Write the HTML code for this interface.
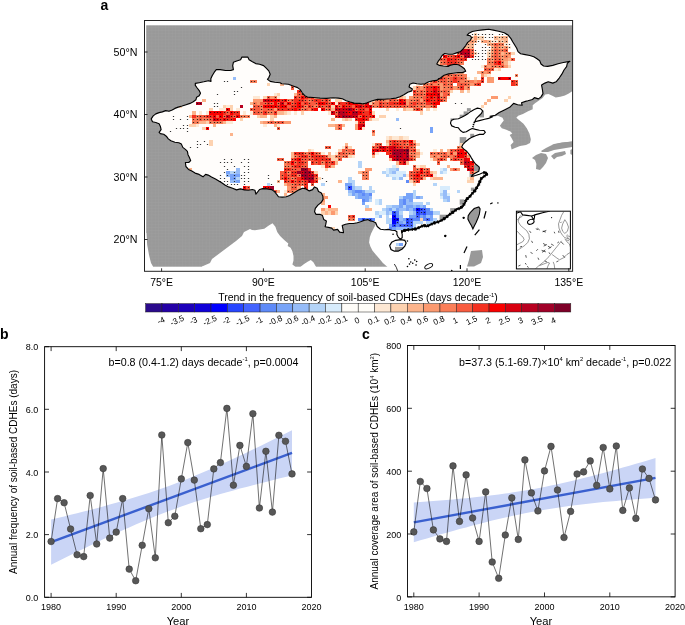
<!DOCTYPE html><html><head><meta charset="utf-8"><title>Figure</title><style>html,body{margin:0;padding:0;background:#fff}svg{display:block}text{font-family:"Liberation Sans",Arial,Helvetica,sans-serif;fill:#000}</style></head><body>
<svg width="685" height="625" viewBox="0 0 685 625">
<rect width="685" height="625" fill="#fff"/>
<defs><pattern id="gp" x="148.03" y="27.0" width="3.3935" height="3.125" patternUnits="userSpaceOnUse"><rect width="3.3935" height="3.125" fill="#999"/><path d="M0 0H3.4M0 0V3.2" stroke="#a4a4a4" stroke-width="0.5" fill="none"/></pattern></defs>
<g id="map">
<rect x="146.2" y="25.3" width="426.0" height="241.4" fill="url(#gp)"/>
<polygon points="145.6,232.6 146.4,233.0 147.2,245.0 149.0,255.0 151.0,263.0 153.0,266.6 153.0,267.4 145.6,267.4" fill="#fff"/>
<polygon points="202.0,267.4 202.0,266.6 210.0,263.0 212.0,259.0 220.0,253.0 228.0,247.0 236.0,241.0 242.0,236.0 244.0,232.0 250.0,229.0 252.0,230.0 255.0,230.2 259.7,229.6 264.3,228.8 268.4,225.7 272.5,223.2 275.4,226.7 277.2,231.9 280.1,236.0 284.2,240.1 288.3,243.6 287.7,245.9 290.6,247.7 292.4,251.2 293.5,255.9 293.5,260.6 292.4,264.6 295.3,266.7 295.3,267.6" fill="#fff"/>
<polygon points="300.6,267.6 300.6,266.7 304.1,264.1 307.6,261.7 310.8,260.0 313.4,262.3 315.1,265.2 316.0,266.7 316.0,267.6" fill="#fff"/>
<polygon points="380.0,215.0 430.0,180.0 445.0,130.0 455.0,105.0 480.0,100.0 487.0,118.0 497.9,115.8 502.5,117.8 503.8,120.5 501.8,123.1 499.9,125.7 501.8,128.3 506.4,129.7 510.4,131.6 512.3,133.6 509.7,134.9 511.7,138.2 513.6,142.0 510.6,145.0 511.6,149.4 515.0,148.0 520.0,146.0 526.0,145.0 530.0,143.0 531.0,139.0 531.0,142.0 530.7,138.8 529.4,133.6 526.8,128.3 523.5,123.7 519.6,120.5 516.3,117.8 518.2,115.8 522.9,113.9 528.1,111.2 532.7,109.3 532.7,105.3 534.7,103.4 538.6,100.7 542.6,98.1 545.2,94.4 548.5,93.9 551.8,95.5 555.7,97.5 560.3,96.8 564.9,95.5 568.8,93.5 572.5,90.9 572.8,91.0 572.8,267.3 387.5,267.3 387.5,266.9 382.9,262.9 379.0,258.3 375.7,254.4 372.4,250.4 370.4,246.5 369.1,242.6 369.8,237.3 371.1,233.4 373.1,229.4 375.7,224.4" fill="#fff"/>
<polygon points="532.0,158.0 536.0,155.0 541.0,153.0 546.0,154.0 548.0,158.0 546.0,163.0 543.0,167.0 540.0,170.0 536.0,169.0 536.4,164.0 535.0,160.0" fill="#999"/>
<polygon points="541.0,151.0 546.0,148.0 554.0,144.0 562.0,142.6 572.2,141.6 572.2,147.0 566.0,148.0 560.0,149.0 554.0,150.0 548.0,152.0 542.0,152.0" fill="#999"/>
<polygon points="551.0,156.0 555.0,153.0 560.0,152.0 565.0,151.0 566.0,154.0 562.0,156.0 557.0,157.0 554.0,159.4" fill="#999"/>
<polygon points="570.4,150.0 572.2,149.0 572.2,155.0 570.4,154.0" fill="#999"/>
<polygon points="471.0,251.0 482.0,250.0 483.0,257.0 481.0,263.0 474.0,266.6 467.0,266.6 469.0,260.0" fill="#999"/>
<polygon points="552.0,145.0 560.0,143.0 572.2,141.6 572.2,145.0" fill="#999"/>
<polygon points="151.2,118.9 153.2,115.9 155.8,113.9 159.1,112.6 162.4,111.9 165.7,110.6 169.0,111.3 172.2,110.0 174.9,108.4 178.2,107.1 182.1,106.0 186.1,104.7 190.0,103.4 193.3,101.8 195.9,99.8 196.6,97.2 199.2,95.8 200.5,93.2 199.2,90.6 197.2,88.0 195.3,85.3 195.3,83.4 199.2,82.7 203.8,81.8 208.4,80.7 211.0,81.4 210.8,78.8 212.3,75.5 214.3,72.2 216.3,69.6 220.2,69.6 225.5,70.5 230.7,70.5 233.4,69.6 232.7,65.6 233.4,62.3 236.7,61.0 240.6,59.7 241.9,57.1 247.8,57.1 249.1,59.7 252.4,61.7 255.7,63.6 259.6,64.3 263.6,65.6 266.2,68.2 268.8,70.9 270.2,74.2 268.8,77.5 267.5,79.4 270.2,81.4 274.8,82.3 280.0,82.7 281.8,83.7 288.4,84.3 293.0,86.0 297.6,87.6 300.2,89.6 302.2,92.8 304.8,95.7 307.4,97.1 313.4,97.5 319.9,98.1 326.5,98.4 333.1,97.8 338.3,98.1 342.3,98.8 346.2,100.7 350.2,102.0 354.1,103.1 360.0,103.4 363.1,104.0 367.1,102.7 372.3,100.7 377.6,99.4 384.2,99.2 390.7,98.8 396.0,98.1 399.9,96.8 403.9,94.8 407.8,92.2 411.8,90.9 412.4,88.9 409.1,86.9 409.8,84.3 413.1,83.0 417.0,83.7 421.0,84.3 424.9,83.7 428.8,81.7 432.8,80.8 436.7,80.4 440.8,77.8 444.1,75.2 448.6,73.9 453.2,73.2 457.9,72.6 462.4,72.6 465.7,71.3 464.4,68.7 461.8,66.7 458.5,64.7 454.6,64.3 450.6,65.1 447.3,66.4 443.4,66.0 439.4,65.4 436.8,64.0 438.1,61.4 440.1,58.8 442.1,55.5 444.7,53.5 448.6,54.2 452.6,54.2 456.5,52.9 460.5,51.6 463.1,48.9 465.7,45.6 467.7,42.4 470.3,40.4 471.6,37.8 470.3,35.8 467.1,35.1 469.0,33.2 472.3,31.5 477.6,30.5 482.8,29.9 488.7,29.2 493.3,30.1 498.6,31.2 499.6,31.5 504.2,32.8 508.1,35.1 510.8,38.4 512.7,41.7 514.7,45.0 516.7,48.3 518.0,51.6 520.6,53.8 525.2,54.6 529.8,55.5 533.8,56.8 537.0,58.8 539.7,60.8 541.0,64.0 543.6,66.0 547.6,66.4 552.8,65.4 558.1,63.8 563.3,62.5 569.9,61.4 567.3,63.4 566.6,66.7 564.0,70.0 562.0,73.9 559.4,77.8 556.1,81.8 552.8,83.1 548.2,81.8 544.9,83.1 541.6,85.1 542.3,89.0 543.0,93.6 541.0,96.9 538.4,98.9 534.4,97.6 532.5,99.5 527.9,100.8 525.5,101.4 521.5,102.7 522.2,105.3 517.6,104.7 513.6,103.4 509.7,107.3 504.4,109.9 499.2,112.6 495.3,115.2 490.0,116.2 492.6,116.7 488.6,118.4 484.7,119.3 479.4,120.6 474.8,121.7 476.1,118.7 478.8,116.0 481.4,113.4 482.7,110.8 480.7,108.8 477.4,108.1 474.2,109.5 470.9,111.4 468.2,113.4 465.0,115.4 461.7,117.3 458.4,118.7 453.8,119.3 451.2,120.6 450.5,123.2 451.8,125.9 455.1,127.2 458.4,127.8 460.4,130.5 463.0,132.4 466.3,131.8 469.6,129.8 472.2,128.5 475.5,129.4 479.4,130.2 484.0,130.5 485.3,132.4 483.4,134.4 479.4,134.4 475.5,135.7 472.2,137.1 468.9,139.0 465.6,141.7 463.0,144.3 461.7,146.9 463.6,148.9 466.9,151.5 469.6,154.8 471.5,158.1 473.5,161.4 475.5,164.0 478.8,166.6 479.4,167.9 478.8,171.2 475.5,173.1 472.2,175.1 471.5,176.4 475.5,175.5 479.4,174.2 483.4,172.5 486.0,172.5 486.6,174.4 484.0,176.4 481.4,178.4 480.1,181.0 478.8,184.3 476.8,187.6 474.8,190.9 472.2,193.5 469.6,196.8 466.3,199.4 465.0,202.7 463.0,206.0 459.7,208.6 457.4,208.8 454.1,211.4 450.2,214.1 446.2,217.3 442.3,220.0 438.3,221.9 434.4,222.9 430.4,224.6 426.5,226.5 423.9,225.2 419.9,227.2 416.0,228.9 412.1,229.4 408.1,229.8 404.2,230.5 401.5,231.8 402.2,234.4 402.2,237.7 400.2,239.0 398.2,237.1 396.9,234.4 396.9,231.8 395.0,230.5 391.7,230.2 388.4,229.4 384.4,229.8 380.5,229.2 377.2,226.5 375.7,222.8 373.1,221.5 370.4,220.9 367.8,219.6 364.5,220.2 361.2,221.5 357.3,222.8 353.4,223.5 349.4,223.5 345.5,224.2 342.2,225.5 342.9,228.8 343.5,232.7 339.6,232.1 337.6,229.4 333.6,230.1 331.7,228.1 328.4,227.4 325.1,226.8 325.8,224.2 326.4,220.9 323.8,219.6 322.5,215.6 319.9,214.3 315.9,214.3 314.6,211.7 315.3,208.4 317.9,205.1 321.2,202.5 323.1,199.4 322.8,196.1 321.1,192.8 318.5,191.5 317.2,188.2 314.5,186.9 312.6,189.6 309.3,190.9 306.0,188.9 302.7,188.2 299.4,189.6 296.1,191.5 292.9,193.5 289.6,195.5 286.3,196.8 282.3,197.1 278.4,196.8 277.1,194.8 274.4,191.5 271.8,189.6 266.7,188.9 262.8,188.6 259.5,189.5 257.5,192.2 255.9,194.1 254.9,190.2 252.3,189.5 248.3,190.2 244.4,189.9 240.4,188.9 236.5,189.9 232.6,188.2 228.6,186.9 225.3,185.2 222.1,183.0 218.8,181.0 215.5,179.0 211.5,177.1 208.2,175.1 205.6,174.4 203.0,176.8 199.1,174.4 195.1,173.1 191.8,171.1 188.5,169.4 185.9,166.5 185.4,162.5 188.7,162.5 190.7,160.6 189.3,157.3 188.0,154.7 187.4,151.4 185.4,149.4 182.8,147.4 181.4,144.1 178.8,142.8 174.9,142.2 170.9,140.8 168.3,138.9 166.3,136.2 163.7,134.3 160.4,133.6 159.1,132.3 161.1,129.7 160.4,126.4 159.1,123.8 155.8,122.5 152.5,121.8" fill="#fffdfb"/>
<polygon points="389.7,245.6 391.7,242.3 395.6,240.3 400.9,239.7 404.8,240.3 406.1,243.0 404.8,246.2 402.2,248.9 398.2,251.2 394.3,251.2 391.0,249.5" fill="#fffdfb"/>
<defs><clipPath id="cclip"><polygon points="151.2,118.9 153.2,115.9 155.8,113.9 159.1,112.6 162.4,111.9 165.7,110.6 169.0,111.3 172.2,110.0 174.9,108.4 178.2,107.1 182.1,106.0 186.1,104.7 190.0,103.4 193.3,101.8 195.9,99.8 196.6,97.2 199.2,95.8 200.5,93.2 199.2,90.6 197.2,88.0 195.3,85.3 195.3,83.4 199.2,82.7 203.8,81.8 208.4,80.7 211.0,81.4 210.8,78.8 212.3,75.5 214.3,72.2 216.3,69.6 220.2,69.6 225.5,70.5 230.7,70.5 233.4,69.6 232.7,65.6 233.4,62.3 236.7,61.0 240.6,59.7 241.9,57.1 247.8,57.1 249.1,59.7 252.4,61.7 255.7,63.6 259.6,64.3 263.6,65.6 266.2,68.2 268.8,70.9 270.2,74.2 268.8,77.5 267.5,79.4 270.2,81.4 274.8,82.3 280.0,82.7 281.8,83.7 288.4,84.3 293.0,86.0 297.6,87.6 300.2,89.6 302.2,92.8 304.8,95.7 307.4,97.1 313.4,97.5 319.9,98.1 326.5,98.4 333.1,97.8 338.3,98.1 342.3,98.8 346.2,100.7 350.2,102.0 354.1,103.1 360.0,103.4 363.1,104.0 367.1,102.7 372.3,100.7 377.6,99.4 384.2,99.2 390.7,98.8 396.0,98.1 399.9,96.8 403.9,94.8 407.8,92.2 411.8,90.9 412.4,88.9 409.1,86.9 409.8,84.3 413.1,83.0 417.0,83.7 421.0,84.3 424.9,83.7 428.8,81.7 432.8,80.8 436.7,80.4 440.8,77.8 444.1,75.2 448.6,73.9 453.2,73.2 457.9,72.6 462.4,72.6 465.7,71.3 464.4,68.7 461.8,66.7 458.5,64.7 454.6,64.3 450.6,65.1 447.3,66.4 443.4,66.0 439.4,65.4 436.8,64.0 438.1,61.4 440.1,58.8 442.1,55.5 444.7,53.5 448.6,54.2 452.6,54.2 456.5,52.9 460.5,51.6 463.1,48.9 465.7,45.6 467.7,42.4 470.3,40.4 471.6,37.8 470.3,35.8 467.1,35.1 469.0,33.2 472.3,31.5 477.6,30.5 482.8,29.9 488.7,29.2 493.3,30.1 498.6,31.2 499.6,31.5 504.2,32.8 508.1,35.1 510.8,38.4 512.7,41.7 514.7,45.0 516.7,48.3 518.0,51.6 520.6,53.8 525.2,54.6 529.8,55.5 533.8,56.8 537.0,58.8 539.7,60.8 541.0,64.0 543.6,66.0 547.6,66.4 552.8,65.4 558.1,63.8 563.3,62.5 569.9,61.4 567.3,63.4 566.6,66.7 564.0,70.0 562.0,73.9 559.4,77.8 556.1,81.8 552.8,83.1 548.2,81.8 544.9,83.1 541.6,85.1 542.3,89.0 543.0,93.6 541.0,96.9 538.4,98.9 534.4,97.6 532.5,99.5 527.9,100.8 525.5,101.4 521.5,102.7 522.2,105.3 517.6,104.7 513.6,103.4 509.7,107.3 504.4,109.9 499.2,112.6 495.3,115.2 490.0,116.2 492.6,116.7 488.6,118.4 484.7,119.3 479.4,120.6 474.8,121.7 476.1,118.7 478.8,116.0 481.4,113.4 482.7,110.8 480.7,108.8 477.4,108.1 474.2,109.5 470.9,111.4 468.2,113.4 465.0,115.4 461.7,117.3 458.4,118.7 453.8,119.3 451.2,120.6 450.5,123.2 451.8,125.9 455.1,127.2 458.4,127.8 460.4,130.5 463.0,132.4 466.3,131.8 469.6,129.8 472.2,128.5 475.5,129.4 479.4,130.2 484.0,130.5 485.3,132.4 483.4,134.4 479.4,134.4 475.5,135.7 472.2,137.1 468.9,139.0 465.6,141.7 463.0,144.3 461.7,146.9 463.6,148.9 466.9,151.5 469.6,154.8 471.5,158.1 473.5,161.4 475.5,164.0 478.8,166.6 479.4,167.9 478.8,171.2 475.5,173.1 472.2,175.1 471.5,176.4 475.5,175.5 479.4,174.2 483.4,172.5 486.0,172.5 486.6,174.4 484.0,176.4 481.4,178.4 480.1,181.0 478.8,184.3 476.8,187.6 474.8,190.9 472.2,193.5 469.6,196.8 466.3,199.4 465.0,202.7 463.0,206.0 459.7,208.6 457.4,208.8 454.1,211.4 450.2,214.1 446.2,217.3 442.3,220.0 438.3,221.9 434.4,222.9 430.4,224.6 426.5,226.5 423.9,225.2 419.9,227.2 416.0,228.9 412.1,229.4 408.1,229.8 404.2,230.5 401.5,231.8 402.2,234.4 402.2,237.7 400.2,239.0 398.2,237.1 396.9,234.4 396.9,231.8 395.0,230.5 391.7,230.2 388.4,229.4 384.4,229.8 380.5,229.2 377.2,226.5 375.7,222.8 373.1,221.5 370.4,220.9 367.8,219.6 364.5,220.2 361.2,221.5 357.3,222.8 353.4,223.5 349.4,223.5 345.5,224.2 342.2,225.5 342.9,228.8 343.5,232.7 339.6,232.1 337.6,229.4 333.6,230.1 331.7,228.1 328.4,227.4 325.1,226.8 325.8,224.2 326.4,220.9 323.8,219.6 322.5,215.6 319.9,214.3 315.9,214.3 314.6,211.7 315.3,208.4 317.9,205.1 321.2,202.5 323.1,199.4 322.8,196.1 321.1,192.8 318.5,191.5 317.2,188.2 314.5,186.9 312.6,189.6 309.3,190.9 306.0,188.9 302.7,188.2 299.4,189.6 296.1,191.5 292.9,193.5 289.6,195.5 286.3,196.8 282.3,197.1 278.4,196.8 277.1,194.8 274.4,191.5 271.8,189.6 266.7,188.9 262.8,188.6 259.5,189.5 257.5,192.2 255.9,194.1 254.9,190.2 252.3,189.5 248.3,190.2 244.4,189.9 240.4,188.9 236.5,189.9 232.6,188.2 228.6,186.9 225.3,185.2 222.1,183.0 218.8,181.0 215.5,179.0 211.5,177.1 208.2,175.1 205.6,174.4 203.0,176.8 199.1,174.4 195.1,173.1 191.8,171.1 188.5,169.4 185.9,166.5 185.4,162.5 188.7,162.5 190.7,160.6 189.3,157.3 188.0,154.7 187.4,151.4 185.4,149.4 182.8,147.4 181.4,144.1 178.8,142.8 174.9,142.2 170.9,140.8 168.3,138.9 166.3,136.2 163.7,134.3 160.4,133.6 159.1,132.3 161.1,129.7 160.4,126.4 159.1,123.8 155.8,122.5 152.5,121.8"/><polygon points="389.7,245.6 391.7,242.3 395.6,240.3 400.9,239.7 404.8,240.3 406.1,243.0 404.8,246.2 402.2,248.9 398.2,251.2 394.3,251.2 391.0,249.5"/></clipPath></defs>
<g clip-path="url(#cclip)">
<rect x="466.9" y="108.1" width="3.9" height="3.3" fill="#999"/>
<rect x="463.6" y="111.4" width="4.6" height="3.9" fill="#999"/>
<rect x="459.7" y="114.7" width="5.3" height="3.9" fill="#999"/>
<rect x="450.5" y="118.4" width="3.9" height="1.8" fill="#999"/>
<rect x="479.4" y="110.8" width="4.6" height="6.6" fill="#999"/>
<rect x="459.7" y="137.1" width="6.6" height="10.5" fill="#999"/>
<rect x="470.2" y="133.8" width="3.9" height="3.3" fill="#999"/>
<rect x="469.6" y="169.9" width="4.6" height="7.1" fill="#999"/>
<rect x="472.9" y="165.3" width="6.6" height="9.2" fill="#999"/>
<rect x="470.9" y="187.6" width="3.9" height="3.3" fill="#999"/>
<rect x="459.7" y="199.4" width="4.6" height="5.3" fill="#999"/>
<rect x="450.5" y="209.3" width="6.6" height="3.3" fill="#999"/>
<rect x="440.0" y="216.5" width="5.3" height="3.9" fill="#999"/>
<rect x="400.9" y="228.5" width="12.5" height="2.6" fill="#999"/>
<rect x="439.6" y="214.7" width="9.2" height="6.6" fill="#999"/>
<rect x="450.2" y="208.1" width="9.8" height="3.9" fill="#999"/>
<rect x="395.0" y="246.9" width="7.9" height="4.3" fill="#999"/>
<rect x="473.2" y="164.0" width="6.0" height="11.0" fill="#999"/>
<rect x="460.0" y="138.0" width="5.6" height="9.4" fill="#999"/>
</g>
<g clip-path="url(#cclip)" shape-rendering="crispEdges">
<rect x="473.8" y="33.2" width="3.4" height="3.12" fill="#fdd2b0"/>
<rect x="470.4" y="36.4" width="3.4" height="3.12" fill="#fdd2b0"/>
<rect x="473.8" y="36.4" width="3.4" height="3.12" fill="#fc9a70"/>
<rect x="477.2" y="36.4" width="6.8" height="3.12" fill="#fdd2b0"/>
<rect x="494.2" y="36.4" width="3.4" height="3.12" fill="#fcb48c"/>
<rect x="497.6" y="36.4" width="3.4" height="3.12" fill="#fdd2b0"/>
<rect x="500.9" y="36.4" width="6.8" height="3.12" fill="#fcb48c"/>
<rect x="467.0" y="39.5" width="3.4" height="3.12" fill="#fcb48c"/>
<rect x="470.4" y="39.5" width="3.4" height="3.12" fill="#fc9a70"/>
<rect x="473.8" y="39.5" width="3.4" height="3.12" fill="#fcb48c"/>
<rect x="480.6" y="39.5" width="3.4" height="3.12" fill="#fcb48c"/>
<rect x="484.0" y="39.5" width="3.4" height="3.12" fill="#fc9a70"/>
<rect x="487.4" y="39.5" width="3.4" height="3.12" fill="#fcb48c"/>
<rect x="490.8" y="39.5" width="6.8" height="3.12" fill="#fde8d4"/>
<rect x="497.6" y="39.5" width="3.4" height="3.12" fill="#fcb48c"/>
<rect x="500.9" y="39.5" width="3.4" height="3.12" fill="#fdd2b0"/>
<rect x="504.3" y="39.5" width="3.4" height="3.12" fill="#fcb48c"/>
<rect x="467.0" y="42.6" width="6.8" height="3.12" fill="#fcb48c"/>
<rect x="487.4" y="42.6" width="3.4" height="3.12" fill="#fcb48c"/>
<rect x="490.8" y="42.6" width="3.4" height="3.12" fill="#fc9a70"/>
<rect x="494.2" y="42.6" width="3.4" height="3.12" fill="#f85c40"/>
<rect x="497.6" y="42.6" width="6.8" height="3.12" fill="#fa7e58"/>
<rect x="504.3" y="42.6" width="3.4" height="3.12" fill="#fde8d4"/>
<rect x="463.6" y="45.8" width="10.2" height="3.12" fill="#fcb48c"/>
<rect x="490.8" y="45.8" width="3.4" height="3.12" fill="#fcb48c"/>
<rect x="494.2" y="45.8" width="3.4" height="3.12" fill="#fa7e58"/>
<rect x="497.6" y="45.8" width="3.4" height="3.12" fill="#fc9a70"/>
<rect x="500.9" y="45.8" width="3.4" height="3.12" fill="#fcb48c"/>
<rect x="504.3" y="45.8" width="3.4" height="3.12" fill="#fc9a70"/>
<rect x="507.7" y="45.8" width="3.4" height="3.12" fill="#fde8d4"/>
<rect x="460.2" y="48.9" width="3.4" height="3.12" fill="#b80020"/>
<rect x="463.6" y="48.9" width="3.4" height="3.12" fill="#d80010"/>
<rect x="467.0" y="48.9" width="3.4" height="3.12" fill="#b80020"/>
<rect x="470.4" y="48.9" width="3.4" height="3.12" fill="#f85c40"/>
<rect x="487.4" y="48.9" width="3.4" height="3.12" fill="#fde8d4"/>
<rect x="490.8" y="48.9" width="3.4" height="3.12" fill="#fc9a70"/>
<rect x="494.2" y="48.9" width="3.4" height="3.12" fill="#f85c40"/>
<rect x="497.6" y="48.9" width="6.8" height="3.12" fill="#fa7e58"/>
<rect x="504.3" y="48.9" width="3.4" height="3.12" fill="#f85c40"/>
<rect x="450.0" y="52.0" width="3.4" height="3.12" fill="#fde8d4"/>
<rect x="456.8" y="52.0" width="3.4" height="3.12" fill="#f85c40"/>
<rect x="460.2" y="52.0" width="10.2" height="3.12" fill="#b80020"/>
<rect x="470.4" y="52.0" width="3.4" height="3.12" fill="#f85c40"/>
<rect x="473.8" y="52.0" width="3.4" height="3.12" fill="#fdd2b0"/>
<rect x="487.4" y="52.0" width="3.4" height="3.12" fill="#fdd2b0"/>
<rect x="490.8" y="52.0" width="3.4" height="3.12" fill="#fc9a70"/>
<rect x="494.2" y="52.0" width="3.4" height="3.12" fill="#f85c40"/>
<rect x="497.6" y="52.0" width="3.4" height="3.12" fill="#fa7e58"/>
<rect x="500.9" y="52.0" width="3.4" height="3.12" fill="#fcb48c"/>
<rect x="504.3" y="52.0" width="3.4" height="3.12" fill="#fc9a70"/>
<rect x="507.7" y="52.0" width="3.4" height="3.12" fill="#fa7e58"/>
<rect x="511.1" y="52.0" width="3.4" height="3.12" fill="#fdd2b0"/>
<rect x="443.3" y="55.1" width="3.4" height="3.12" fill="#fa0000"/>
<rect x="446.7" y="55.1" width="6.8" height="3.12" fill="#f85c40"/>
<rect x="453.4" y="55.1" width="3.4" height="3.12" fill="#f43020"/>
<rect x="456.8" y="55.1" width="3.4" height="3.12" fill="#fa0000"/>
<rect x="460.2" y="55.1" width="3.4" height="3.12" fill="#f85c40"/>
<rect x="463.6" y="55.1" width="6.8" height="3.12" fill="#b80020"/>
<rect x="470.4" y="55.1" width="3.4" height="3.12" fill="#f43020"/>
<rect x="487.4" y="55.1" width="3.4" height="3.12" fill="#fdd2b0"/>
<rect x="490.8" y="55.1" width="3.4" height="3.12" fill="#fa7e58"/>
<rect x="494.2" y="55.1" width="3.4" height="3.12" fill="#f85c40"/>
<rect x="497.6" y="55.1" width="3.4" height="3.12" fill="#fa7e58"/>
<rect x="500.9" y="55.1" width="3.4" height="3.12" fill="#fc9a70"/>
<rect x="504.3" y="55.1" width="3.4" height="3.12" fill="#fa7e58"/>
<rect x="507.7" y="55.1" width="3.4" height="3.12" fill="#fc9a70"/>
<rect x="436.5" y="58.2" width="3.4" height="3.12" fill="#fdd2b0"/>
<rect x="439.9" y="58.2" width="6.8" height="3.12" fill="#f85c40"/>
<rect x="446.7" y="58.2" width="3.4" height="3.12" fill="#fa0000"/>
<rect x="450.0" y="58.2" width="6.8" height="3.12" fill="#f43020"/>
<rect x="456.8" y="58.2" width="3.4" height="3.12" fill="#f85c40"/>
<rect x="460.2" y="58.2" width="6.8" height="3.12" fill="#f43020"/>
<rect x="487.4" y="58.2" width="3.4" height="3.12" fill="#fa7e58"/>
<rect x="490.8" y="58.2" width="3.4" height="3.12" fill="#fc9a70"/>
<rect x="494.2" y="58.2" width="6.8" height="3.12" fill="#f85c40"/>
<rect x="500.9" y="58.2" width="6.8" height="3.12" fill="#fc9a70"/>
<rect x="507.7" y="58.2" width="3.4" height="3.12" fill="#fcb48c"/>
<rect x="511.1" y="58.2" width="3.4" height="3.12" fill="#f85c40"/>
<rect x="436.5" y="61.4" width="3.4" height="3.12" fill="#fdd2b0"/>
<rect x="439.9" y="61.4" width="3.4" height="3.12" fill="#fa7e58"/>
<rect x="443.3" y="61.4" width="3.4" height="3.12" fill="#f85c40"/>
<rect x="446.7" y="61.4" width="10.2" height="3.12" fill="#f43020"/>
<rect x="456.8" y="61.4" width="3.4" height="3.12" fill="#f85c40"/>
<rect x="460.2" y="61.4" width="3.4" height="3.12" fill="#fa7e58"/>
<rect x="487.4" y="61.4" width="6.8" height="3.12" fill="#fa7e58"/>
<rect x="494.2" y="61.4" width="3.4" height="3.12" fill="#f43020"/>
<rect x="497.6" y="61.4" width="3.4" height="3.12" fill="#fa0000"/>
<rect x="500.9" y="61.4" width="3.4" height="3.12" fill="#fa7e58"/>
<rect x="504.3" y="61.4" width="3.4" height="3.12" fill="#fcb48c"/>
<rect x="507.7" y="61.4" width="3.4" height="3.12" fill="#fde8d4"/>
<rect x="439.9" y="64.5" width="3.4" height="3.12" fill="#fcb48c"/>
<rect x="443.3" y="64.5" width="3.4" height="3.12" fill="#fde8d4"/>
<rect x="446.7" y="64.5" width="3.4" height="3.12" fill="#f85c40"/>
<rect x="480.6" y="64.5" width="3.4" height="3.12" fill="#fde8d4"/>
<rect x="484.0" y="64.5" width="3.4" height="3.12" fill="#fa7e58"/>
<rect x="487.4" y="64.5" width="3.4" height="3.12" fill="#fc9a70"/>
<rect x="490.8" y="64.5" width="10.2" height="3.12" fill="#fa7e58"/>
<rect x="500.9" y="64.5" width="3.4" height="3.12" fill="#f85c40"/>
<rect x="504.3" y="64.5" width="3.4" height="3.12" fill="#fc9a70"/>
<rect x="507.7" y="64.5" width="3.4" height="3.12" fill="#fdd2b0"/>
<rect x="484.0" y="67.6" width="10.2" height="3.12" fill="#f85c40"/>
<rect x="494.2" y="67.6" width="3.4" height="3.12" fill="#fde8d4"/>
<rect x="497.6" y="67.6" width="3.4" height="3.12" fill="#fdd2b0"/>
<rect x="456.8" y="70.8" width="6.8" height="3.12" fill="#fcb48c"/>
<rect x="477.2" y="70.8" width="3.4" height="3.12" fill="#fcb48c"/>
<rect x="480.6" y="70.8" width="3.4" height="3.12" fill="#fa7e58"/>
<rect x="484.0" y="70.8" width="3.4" height="3.12" fill="#fc9a70"/>
<rect x="487.4" y="70.8" width="3.4" height="3.12" fill="#fa7e58"/>
<rect x="443.3" y="73.9" width="3.4" height="3.12" fill="#fa7e58"/>
<rect x="446.7" y="73.9" width="3.4" height="3.12" fill="#f85c40"/>
<rect x="450.0" y="73.9" width="3.4" height="3.12" fill="#fa7e58"/>
<rect x="453.4" y="73.9" width="3.4" height="3.12" fill="#f85c40"/>
<rect x="456.8" y="73.9" width="10.2" height="3.12" fill="#fa7e58"/>
<rect x="480.6" y="73.9" width="3.4" height="3.12" fill="#fc9a70"/>
<rect x="484.0" y="73.9" width="3.4" height="3.12" fill="#fdd2b0"/>
<rect x="487.4" y="73.9" width="3.4" height="3.12" fill="#fde8d4"/>
<rect x="514.5" y="73.9" width="3.4" height="3.12" fill="#fa7e58"/>
<rect x="232.9" y="77.0" width="3.4" height="3.12" fill="#96bcf8"/>
<rect x="436.5" y="77.0" width="3.4" height="3.12" fill="#f85c40"/>
<rect x="439.9" y="77.0" width="3.4" height="3.12" fill="#f43020"/>
<rect x="443.3" y="77.0" width="3.4" height="3.12" fill="#f85c40"/>
<rect x="446.7" y="77.0" width="3.4" height="3.12" fill="#fa7e58"/>
<rect x="450.0" y="77.0" width="3.4" height="3.12" fill="#f85c40"/>
<rect x="453.4" y="77.0" width="3.4" height="3.12" fill="#f43020"/>
<rect x="456.8" y="77.0" width="6.8" height="3.12" fill="#f85c40"/>
<rect x="463.6" y="77.0" width="3.4" height="3.12" fill="#fa7e58"/>
<rect x="467.0" y="77.0" width="3.4" height="3.12" fill="#fde8d4"/>
<rect x="473.8" y="77.0" width="3.4" height="3.12" fill="#fdd2b0"/>
<rect x="480.6" y="77.0" width="3.4" height="3.12" fill="#f43020"/>
<rect x="487.4" y="77.0" width="6.8" height="3.12" fill="#fc9a70"/>
<rect x="497.6" y="77.0" width="3.4" height="3.12" fill="#d80010"/>
<rect x="500.9" y="77.0" width="6.8" height="3.12" fill="#fa0000"/>
<rect x="507.7" y="77.0" width="3.4" height="3.12" fill="#d80010"/>
<rect x="249.8" y="80.1" width="6.8" height="3.12" fill="#fa7e58"/>
<rect x="429.7" y="80.1" width="3.4" height="3.12" fill="#fa7e58"/>
<rect x="433.1" y="80.1" width="3.4" height="3.12" fill="#f43020"/>
<rect x="436.5" y="80.1" width="3.4" height="3.12" fill="#fa7e58"/>
<rect x="439.9" y="80.1" width="6.8" height="3.12" fill="#f85c40"/>
<rect x="446.7" y="80.1" width="3.4" height="3.12" fill="#fa7e58"/>
<rect x="450.0" y="80.1" width="3.4" height="3.12" fill="#f85c40"/>
<rect x="453.4" y="80.1" width="3.4" height="3.12" fill="#f43020"/>
<rect x="456.8" y="80.1" width="3.4" height="3.12" fill="#f85c40"/>
<rect x="460.2" y="80.1" width="13.6" height="3.12" fill="#fa7e58"/>
<rect x="473.8" y="80.1" width="3.4" height="3.12" fill="#fc9a70"/>
<rect x="477.2" y="80.1" width="3.4" height="3.12" fill="#fa7e58"/>
<rect x="480.6" y="80.1" width="3.4" height="3.12" fill="#f43020"/>
<rect x="487.4" y="80.1" width="6.8" height="3.12" fill="#fc9a70"/>
<rect x="511.1" y="80.1" width="3.4" height="3.12" fill="#f43020"/>
<rect x="514.5" y="80.1" width="3.4" height="3.12" fill="#f85c40"/>
<rect x="266.8" y="83.2" width="3.4" height="3.12" fill="#fdd2b0"/>
<rect x="280.4" y="83.2" width="3.4" height="3.12" fill="#fcb48c"/>
<rect x="416.1" y="83.2" width="3.4" height="3.12" fill="#fde8d4"/>
<rect x="422.9" y="83.2" width="6.8" height="3.12" fill="#fa7e58"/>
<rect x="429.7" y="83.2" width="3.4" height="3.12" fill="#f85c40"/>
<rect x="433.1" y="83.2" width="6.8" height="3.12" fill="#fa7e58"/>
<rect x="439.9" y="83.2" width="3.4" height="3.12" fill="#fc9a70"/>
<rect x="443.3" y="83.2" width="3.4" height="3.12" fill="#f85c40"/>
<rect x="446.7" y="83.2" width="3.4" height="3.12" fill="#fa7e58"/>
<rect x="450.0" y="83.2" width="3.4" height="3.12" fill="#f85c40"/>
<rect x="456.8" y="83.2" width="10.2" height="3.12" fill="#f85c40"/>
<rect x="467.0" y="83.2" width="3.4" height="3.12" fill="#fa7e58"/>
<rect x="470.4" y="83.2" width="3.4" height="3.12" fill="#fc9a70"/>
<rect x="473.8" y="83.2" width="3.4" height="3.12" fill="#f85c40"/>
<rect x="477.2" y="83.2" width="3.4" height="3.12" fill="#f43020"/>
<rect x="511.1" y="83.2" width="3.4" height="3.12" fill="#f43020"/>
<rect x="514.5" y="83.2" width="3.4" height="3.12" fill="#f85c40"/>
<rect x="290.6" y="86.4" width="3.4" height="3.12" fill="#f85c40"/>
<rect x="412.7" y="86.4" width="3.4" height="3.12" fill="#fdd2b0"/>
<rect x="416.1" y="86.4" width="3.4" height="3.12" fill="#fa7e58"/>
<rect x="419.5" y="86.4" width="3.4" height="3.12" fill="#fc9a70"/>
<rect x="422.9" y="86.4" width="3.4" height="3.12" fill="#fa7e58"/>
<rect x="426.3" y="86.4" width="6.8" height="3.12" fill="#f43020"/>
<rect x="433.1" y="86.4" width="3.4" height="3.12" fill="#fa0000"/>
<rect x="436.5" y="86.4" width="3.4" height="3.12" fill="#f43020"/>
<rect x="439.9" y="86.4" width="3.4" height="3.12" fill="#fc9a70"/>
<rect x="443.3" y="86.4" width="6.8" height="3.12" fill="#fa7e58"/>
<rect x="450.0" y="86.4" width="3.4" height="3.12" fill="#f85c40"/>
<rect x="453.4" y="86.4" width="3.4" height="3.12" fill="#fc9a70"/>
<rect x="456.8" y="86.4" width="3.4" height="3.12" fill="#fa7e58"/>
<rect x="460.2" y="86.4" width="3.4" height="3.12" fill="#f43020"/>
<rect x="463.6" y="86.4" width="3.4" height="3.12" fill="#fc9a70"/>
<rect x="467.0" y="86.4" width="3.4" height="3.12" fill="#fa7e58"/>
<rect x="297.3" y="89.5" width="3.4" height="3.12" fill="#f43020"/>
<rect x="412.7" y="89.5" width="3.4" height="3.12" fill="#f43020"/>
<rect x="416.1" y="89.5" width="3.4" height="3.12" fill="#fa7e58"/>
<rect x="419.5" y="89.5" width="3.4" height="3.12" fill="#f85c40"/>
<rect x="422.9" y="89.5" width="3.4" height="3.12" fill="#fa7e58"/>
<rect x="426.3" y="89.5" width="6.8" height="3.12" fill="#f43020"/>
<rect x="433.1" y="89.5" width="3.4" height="3.12" fill="#d80010"/>
<rect x="436.5" y="89.5" width="3.4" height="3.12" fill="#f43020"/>
<rect x="439.9" y="89.5" width="3.4" height="3.12" fill="#fa7e58"/>
<rect x="443.3" y="89.5" width="3.4" height="3.12" fill="#f85c40"/>
<rect x="446.7" y="89.5" width="3.4" height="3.12" fill="#fa7e58"/>
<rect x="450.0" y="89.5" width="3.4" height="3.12" fill="#fdd2b0"/>
<rect x="460.2" y="89.5" width="3.4" height="3.12" fill="#fcb48c"/>
<rect x="467.0" y="89.5" width="3.4" height="3.12" fill="#fdd2b0"/>
<rect x="273.6" y="92.6" width="3.4" height="3.12" fill="#fde8d4"/>
<rect x="277.0" y="92.6" width="3.4" height="3.12" fill="#fdd2b0"/>
<rect x="293.9" y="92.6" width="3.4" height="3.12" fill="#fcb48c"/>
<rect x="297.3" y="92.6" width="6.8" height="3.12" fill="#f85c40"/>
<rect x="412.7" y="92.6" width="10.2" height="3.12" fill="#f85c40"/>
<rect x="422.9" y="92.6" width="3.4" height="3.12" fill="#fa7e58"/>
<rect x="426.3" y="92.6" width="10.2" height="3.12" fill="#fa0000"/>
<rect x="436.5" y="92.6" width="3.4" height="3.12" fill="#d80010"/>
<rect x="439.9" y="92.6" width="3.4" height="3.12" fill="#fc9a70"/>
<rect x="443.3" y="92.6" width="6.8" height="3.12" fill="#f85c40"/>
<rect x="253.2" y="95.8" width="6.8" height="3.12" fill="#fde8d4"/>
<rect x="263.4" y="95.8" width="3.4" height="3.12" fill="#fdd2b0"/>
<rect x="266.8" y="95.8" width="3.4" height="3.12" fill="#f85c40"/>
<rect x="270.2" y="95.8" width="3.4" height="3.12" fill="#fc9a70"/>
<rect x="273.6" y="95.8" width="3.4" height="3.12" fill="#fa7e58"/>
<rect x="277.0" y="95.8" width="3.4" height="3.12" fill="#fde8d4"/>
<rect x="293.9" y="95.8" width="3.4" height="3.12" fill="#f43020"/>
<rect x="297.3" y="95.8" width="3.4" height="3.12" fill="#f85c40"/>
<rect x="300.7" y="95.8" width="3.4" height="3.12" fill="#fa0000"/>
<rect x="304.1" y="95.8" width="3.4" height="3.12" fill="#f43020"/>
<rect x="307.5" y="95.8" width="3.4" height="3.12" fill="#f85c40"/>
<rect x="310.9" y="95.8" width="3.4" height="3.12" fill="#f43020"/>
<rect x="314.3" y="95.8" width="3.4" height="3.12" fill="#fcb48c"/>
<rect x="317.7" y="95.8" width="6.8" height="3.12" fill="#fde8d4"/>
<rect x="331.3" y="95.8" width="3.4" height="3.12" fill="#fde8d4"/>
<rect x="392.4" y="95.8" width="3.4" height="3.12" fill="#fde8d4"/>
<rect x="399.1" y="95.8" width="3.4" height="3.12" fill="#fcb48c"/>
<rect x="402.5" y="95.8" width="3.4" height="3.12" fill="#fdd2b0"/>
<rect x="409.3" y="95.8" width="3.4" height="3.12" fill="#fc9a70"/>
<rect x="412.7" y="95.8" width="10.2" height="3.12" fill="#fa7e58"/>
<rect x="422.9" y="95.8" width="3.4" height="3.12" fill="#f85c40"/>
<rect x="426.3" y="95.8" width="3.4" height="3.12" fill="#f43020"/>
<rect x="429.7" y="95.8" width="3.4" height="3.12" fill="#fa0000"/>
<rect x="433.1" y="95.8" width="3.4" height="3.12" fill="#f43020"/>
<rect x="436.5" y="95.8" width="3.4" height="3.12" fill="#d80010"/>
<rect x="439.9" y="95.8" width="3.4" height="3.12" fill="#fa7e58"/>
<rect x="443.3" y="95.8" width="3.4" height="3.12" fill="#f85c40"/>
<rect x="446.7" y="95.8" width="3.4" height="3.12" fill="#fde8d4"/>
<rect x="490.8" y="95.8" width="6.8" height="3.12" fill="#fc9a70"/>
<rect x="507.7" y="95.8" width="3.4" height="3.12" fill="#fdd2b0"/>
<rect x="202.3" y="98.9" width="3.4" height="3.12" fill="#fcb48c"/>
<rect x="253.2" y="98.9" width="10.2" height="3.12" fill="#fc9a70"/>
<rect x="263.4" y="98.9" width="6.8" height="3.12" fill="#d80010"/>
<rect x="270.2" y="98.9" width="10.2" height="3.12" fill="#fa0000"/>
<rect x="280.4" y="98.9" width="3.4" height="3.12" fill="#f43020"/>
<rect x="283.8" y="98.9" width="3.4" height="3.12" fill="#fa0000"/>
<rect x="287.2" y="98.9" width="3.4" height="3.12" fill="#fa7e58"/>
<rect x="290.6" y="98.9" width="3.4" height="3.12" fill="#f85c40"/>
<rect x="293.9" y="98.9" width="10.2" height="3.12" fill="#f43020"/>
<rect x="304.1" y="98.9" width="3.4" height="3.12" fill="#f85c40"/>
<rect x="307.5" y="98.9" width="3.4" height="3.12" fill="#fa7e58"/>
<rect x="310.9" y="98.9" width="3.4" height="3.12" fill="#f85c40"/>
<rect x="314.3" y="98.9" width="6.8" height="3.12" fill="#f43020"/>
<rect x="321.1" y="98.9" width="3.4" height="3.12" fill="#f85c40"/>
<rect x="324.5" y="98.9" width="3.4" height="3.12" fill="#f43020"/>
<rect x="327.9" y="98.9" width="3.4" height="3.12" fill="#fa7e58"/>
<rect x="334.7" y="98.9" width="6.8" height="3.12" fill="#fdd2b0"/>
<rect x="372.0" y="98.9" width="3.4" height="3.12" fill="#fdd2b0"/>
<rect x="375.4" y="98.9" width="3.4" height="3.12" fill="#fa7e58"/>
<rect x="378.8" y="98.9" width="3.4" height="3.12" fill="#f85c40"/>
<rect x="382.2" y="98.9" width="3.4" height="3.12" fill="#fa7e58"/>
<rect x="385.6" y="98.9" width="3.4" height="3.12" fill="#fc9a70"/>
<rect x="389.0" y="98.9" width="6.8" height="3.12" fill="#f85c40"/>
<rect x="395.8" y="98.9" width="3.4" height="3.12" fill="#fa7e58"/>
<rect x="399.1" y="98.9" width="3.4" height="3.12" fill="#fa0000"/>
<rect x="402.5" y="98.9" width="3.4" height="3.12" fill="#f43020"/>
<rect x="405.9" y="98.9" width="3.4" height="3.12" fill="#fc9a70"/>
<rect x="409.3" y="98.9" width="6.8" height="3.12" fill="#fa7e58"/>
<rect x="416.1" y="98.9" width="3.4" height="3.12" fill="#f85c40"/>
<rect x="419.5" y="98.9" width="3.4" height="3.12" fill="#fc9a70"/>
<rect x="422.9" y="98.9" width="3.4" height="3.12" fill="#f85c40"/>
<rect x="426.3" y="98.9" width="3.4" height="3.12" fill="#fa0000"/>
<rect x="429.7" y="98.9" width="6.8" height="3.12" fill="#f43020"/>
<rect x="436.5" y="98.9" width="3.4" height="3.12" fill="#fa0000"/>
<rect x="439.9" y="98.9" width="3.4" height="3.12" fill="#f43020"/>
<rect x="443.3" y="98.9" width="3.4" height="3.12" fill="#fa7e58"/>
<rect x="487.4" y="98.9" width="3.4" height="3.12" fill="#fcb48c"/>
<rect x="504.3" y="98.9" width="3.4" height="3.12" fill="#fdd2b0"/>
<rect x="195.5" y="102.0" width="6.8" height="3.12" fill="#b80020"/>
<rect x="249.8" y="102.0" width="3.4" height="3.12" fill="#fcb48c"/>
<rect x="253.2" y="102.0" width="3.4" height="3.12" fill="#fa7e58"/>
<rect x="256.6" y="102.0" width="3.4" height="3.12" fill="#fc9a70"/>
<rect x="260.0" y="102.0" width="6.8" height="3.12" fill="#f85c40"/>
<rect x="266.8" y="102.0" width="3.4" height="3.12" fill="#f43020"/>
<rect x="270.2" y="102.0" width="3.4" height="3.12" fill="#f85c40"/>
<rect x="273.6" y="102.0" width="3.4" height="3.12" fill="#fa0000"/>
<rect x="277.0" y="102.0" width="3.4" height="3.12" fill="#f85c40"/>
<rect x="280.4" y="102.0" width="3.4" height="3.12" fill="#d80010"/>
<rect x="283.8" y="102.0" width="3.4" height="3.12" fill="#f85c40"/>
<rect x="287.2" y="102.0" width="3.4" height="3.12" fill="#fa0000"/>
<rect x="290.6" y="102.0" width="3.4" height="3.12" fill="#f85c40"/>
<rect x="293.9" y="102.0" width="3.4" height="3.12" fill="#f43020"/>
<rect x="297.3" y="102.0" width="3.4" height="3.12" fill="#fa0000"/>
<rect x="300.7" y="102.0" width="3.4" height="3.12" fill="#f85c40"/>
<rect x="304.1" y="102.0" width="3.4" height="3.12" fill="#f43020"/>
<rect x="307.5" y="102.0" width="10.2" height="3.12" fill="#f85c40"/>
<rect x="317.7" y="102.0" width="6.8" height="3.12" fill="#fa0000"/>
<rect x="324.5" y="102.0" width="3.4" height="3.12" fill="#f43020"/>
<rect x="327.9" y="102.0" width="3.4" height="3.12" fill="#f85c40"/>
<rect x="331.3" y="102.0" width="3.4" height="3.12" fill="#fa0000"/>
<rect x="334.7" y="102.0" width="3.4" height="3.12" fill="#fde8d4"/>
<rect x="338.1" y="102.0" width="10.2" height="3.12" fill="#f43020"/>
<rect x="348.2" y="102.0" width="10.2" height="3.12" fill="#fa0000"/>
<rect x="358.4" y="102.0" width="3.4" height="3.12" fill="#f43020"/>
<rect x="361.8" y="102.0" width="3.4" height="3.12" fill="#f85c40"/>
<rect x="365.2" y="102.0" width="3.4" height="3.12" fill="#d80010"/>
<rect x="368.6" y="102.0" width="3.4" height="3.12" fill="#fdd2b0"/>
<rect x="372.0" y="102.0" width="6.8" height="3.12" fill="#fa7e58"/>
<rect x="378.8" y="102.0" width="3.4" height="3.12" fill="#f43020"/>
<rect x="382.2" y="102.0" width="6.8" height="3.12" fill="#f85c40"/>
<rect x="389.0" y="102.0" width="10.2" height="3.12" fill="#f43020"/>
<rect x="399.1" y="102.0" width="3.4" height="3.12" fill="#fa0000"/>
<rect x="402.5" y="102.0" width="3.4" height="3.12" fill="#d80010"/>
<rect x="405.9" y="102.0" width="3.4" height="3.12" fill="#fc9a70"/>
<rect x="409.3" y="102.0" width="3.4" height="3.12" fill="#f85c40"/>
<rect x="412.7" y="102.0" width="3.4" height="3.12" fill="#f43020"/>
<rect x="416.1" y="102.0" width="6.8" height="3.12" fill="#f85c40"/>
<rect x="422.9" y="102.0" width="3.4" height="3.12" fill="#fa7e58"/>
<rect x="426.3" y="102.0" width="6.8" height="3.12" fill="#f43020"/>
<rect x="433.1" y="102.0" width="6.8" height="3.12" fill="#fa0000"/>
<rect x="484.0" y="102.0" width="3.4" height="3.12" fill="#fcb48c"/>
<rect x="178.6" y="105.1" width="3.4" height="3.12" fill="#fdd2b0"/>
<rect x="222.7" y="105.1" width="3.4" height="3.12" fill="#fdd2b0"/>
<rect x="226.1" y="105.1" width="3.4" height="3.12" fill="#fde8d4"/>
<rect x="229.5" y="105.1" width="3.4" height="3.12" fill="#fdd2b0"/>
<rect x="239.7" y="105.1" width="3.4" height="3.12" fill="#b80020"/>
<rect x="253.2" y="105.1" width="6.8" height="3.12" fill="#f85c40"/>
<rect x="260.0" y="105.1" width="3.4" height="3.12" fill="#fa7e58"/>
<rect x="263.4" y="105.1" width="13.6" height="3.12" fill="#fa0000"/>
<rect x="277.0" y="105.1" width="3.4" height="3.12" fill="#f43020"/>
<rect x="280.4" y="105.1" width="6.8" height="3.12" fill="#fa0000"/>
<rect x="287.2" y="105.1" width="3.4" height="3.12" fill="#f85c40"/>
<rect x="290.6" y="105.1" width="6.8" height="3.12" fill="#f43020"/>
<rect x="297.3" y="105.1" width="3.4" height="3.12" fill="#fa0000"/>
<rect x="300.7" y="105.1" width="3.4" height="3.12" fill="#f43020"/>
<rect x="304.1" y="105.1" width="3.4" height="3.12" fill="#fa7e58"/>
<rect x="307.5" y="105.1" width="3.4" height="3.12" fill="#f43020"/>
<rect x="310.9" y="105.1" width="3.4" height="3.12" fill="#f85c40"/>
<rect x="314.3" y="105.1" width="3.4" height="3.12" fill="#fa7e58"/>
<rect x="317.7" y="105.1" width="3.4" height="3.12" fill="#f43020"/>
<rect x="321.1" y="105.1" width="6.8" height="3.12" fill="#f85c40"/>
<rect x="327.9" y="105.1" width="3.4" height="3.12" fill="#f43020"/>
<rect x="331.3" y="105.1" width="3.4" height="3.12" fill="#fdd2b0"/>
<rect x="334.7" y="105.1" width="3.4" height="3.12" fill="#fa0000"/>
<rect x="338.1" y="105.1" width="3.4" height="3.12" fill="#f85c40"/>
<rect x="341.5" y="105.1" width="3.4" height="3.12" fill="#fa0000"/>
<rect x="344.8" y="105.1" width="6.8" height="3.12" fill="#f43020"/>
<rect x="351.6" y="105.1" width="3.4" height="3.12" fill="#f85c40"/>
<rect x="355.0" y="105.1" width="3.4" height="3.12" fill="#fa0000"/>
<rect x="358.4" y="105.1" width="3.4" height="3.12" fill="#d80010"/>
<rect x="361.8" y="105.1" width="3.4" height="3.12" fill="#f43020"/>
<rect x="365.2" y="105.1" width="3.4" height="3.12" fill="#fa0000"/>
<rect x="368.6" y="105.1" width="3.4" height="3.12" fill="#d80010"/>
<rect x="372.0" y="105.1" width="6.8" height="3.12" fill="#fa7e58"/>
<rect x="378.8" y="105.1" width="3.4" height="3.12" fill="#f43020"/>
<rect x="382.2" y="105.1" width="23.8" height="3.12" fill="#f85c40"/>
<rect x="405.9" y="105.1" width="3.4" height="3.12" fill="#fa7e58"/>
<rect x="409.3" y="105.1" width="6.8" height="3.12" fill="#f85c40"/>
<rect x="416.1" y="105.1" width="17.0" height="3.12" fill="#fa7e58"/>
<rect x="433.1" y="105.1" width="3.4" height="3.12" fill="#f43020"/>
<rect x="480.6" y="105.1" width="3.4" height="3.12" fill="#fdd2b0"/>
<rect x="209.1" y="108.2" width="3.4" height="3.12" fill="#fdd2b0"/>
<rect x="219.3" y="108.2" width="6.8" height="3.12" fill="#fde8d4"/>
<rect x="226.1" y="108.2" width="3.4" height="3.12" fill="#fa0000"/>
<rect x="229.5" y="108.2" width="3.4" height="3.12" fill="#fdd2b0"/>
<rect x="236.3" y="108.2" width="3.4" height="3.12" fill="#fde8d4"/>
<rect x="249.8" y="108.2" width="10.2" height="3.12" fill="#f85c40"/>
<rect x="260.0" y="108.2" width="3.4" height="3.12" fill="#fa7e58"/>
<rect x="263.4" y="108.2" width="10.2" height="3.12" fill="#f85c40"/>
<rect x="273.6" y="108.2" width="3.4" height="3.12" fill="#fc9a70"/>
<rect x="277.0" y="108.2" width="17.0" height="3.12" fill="#f43020"/>
<rect x="293.9" y="108.2" width="3.4" height="3.12" fill="#fa0000"/>
<rect x="297.3" y="108.2" width="3.4" height="3.12" fill="#f43020"/>
<rect x="300.7" y="108.2" width="3.4" height="3.12" fill="#fa7e58"/>
<rect x="304.1" y="108.2" width="3.4" height="3.12" fill="#f85c40"/>
<rect x="307.5" y="108.2" width="3.4" height="3.12" fill="#fa7e58"/>
<rect x="310.9" y="108.2" width="3.4" height="3.12" fill="#f43020"/>
<rect x="314.3" y="108.2" width="3.4" height="3.12" fill="#fa0000"/>
<rect x="321.1" y="108.2" width="3.4" height="3.12" fill="#fa0000"/>
<rect x="324.5" y="108.2" width="3.4" height="3.12" fill="#fa7e58"/>
<rect x="327.9" y="108.2" width="3.4" height="3.12" fill="#f85c40"/>
<rect x="331.3" y="108.2" width="3.4" height="3.12" fill="#fcb48c"/>
<rect x="334.7" y="108.2" width="13.6" height="3.12" fill="#d80010"/>
<rect x="348.2" y="108.2" width="3.4" height="3.12" fill="#a00028"/>
<rect x="351.6" y="108.2" width="3.4" height="3.12" fill="#fa0000"/>
<rect x="355.0" y="108.2" width="3.4" height="3.12" fill="#f85c40"/>
<rect x="358.4" y="108.2" width="6.8" height="3.12" fill="#f43020"/>
<rect x="365.2" y="108.2" width="3.4" height="3.12" fill="#f85c40"/>
<rect x="368.6" y="108.2" width="3.4" height="3.12" fill="#fa0000"/>
<rect x="385.6" y="108.2" width="3.4" height="3.12" fill="#fdd2b0"/>
<rect x="395.8" y="108.2" width="3.4" height="3.12" fill="#fde8d4"/>
<rect x="402.5" y="108.2" width="3.4" height="3.12" fill="#fcb48c"/>
<rect x="405.9" y="108.2" width="6.8" height="3.12" fill="#fdd2b0"/>
<rect x="412.7" y="108.2" width="3.4" height="3.12" fill="#fa7e58"/>
<rect x="416.1" y="108.2" width="3.4" height="3.12" fill="#f43020"/>
<rect x="419.5" y="108.2" width="3.4" height="3.12" fill="#fa7e58"/>
<rect x="426.3" y="108.2" width="3.4" height="3.12" fill="#fdd2b0"/>
<rect x="433.1" y="108.2" width="3.4" height="3.12" fill="#fde8d4"/>
<rect x="192.1" y="111.4" width="3.4" height="3.12" fill="#fcb48c"/>
<rect x="198.9" y="111.4" width="3.4" height="3.12" fill="#fde8d4"/>
<rect x="205.7" y="111.4" width="3.4" height="3.12" fill="#fde8d4"/>
<rect x="209.1" y="111.4" width="13.6" height="3.12" fill="#fa0000"/>
<rect x="222.7" y="111.4" width="3.4" height="3.12" fill="#f43020"/>
<rect x="226.1" y="111.4" width="3.4" height="3.12" fill="#f85c40"/>
<rect x="229.5" y="111.4" width="3.4" height="3.12" fill="#fa0000"/>
<rect x="232.9" y="111.4" width="6.8" height="3.12" fill="#f43020"/>
<rect x="243.0" y="111.4" width="3.4" height="3.12" fill="#fde8d4"/>
<rect x="249.8" y="111.4" width="3.4" height="3.12" fill="#fde8d4"/>
<rect x="253.2" y="111.4" width="6.8" height="3.12" fill="#f85c40"/>
<rect x="260.0" y="111.4" width="3.4" height="3.12" fill="#fa7e58"/>
<rect x="263.4" y="111.4" width="3.4" height="3.12" fill="#f43020"/>
<rect x="266.8" y="111.4" width="6.8" height="3.12" fill="#fa7e58"/>
<rect x="273.6" y="111.4" width="3.4" height="3.12" fill="#f43020"/>
<rect x="277.0" y="111.4" width="6.8" height="3.12" fill="#fcb48c"/>
<rect x="283.8" y="111.4" width="3.4" height="3.12" fill="#fdd2b0"/>
<rect x="287.2" y="111.4" width="3.4" height="3.12" fill="#fde8d4"/>
<rect x="293.9" y="111.4" width="3.4" height="3.12" fill="#fde8d4"/>
<rect x="300.7" y="111.4" width="3.4" height="3.12" fill="#fdd2b0"/>
<rect x="327.9" y="111.4" width="3.4" height="3.12" fill="#fde8d4"/>
<rect x="331.3" y="111.4" width="3.4" height="3.12" fill="#d80010"/>
<rect x="334.7" y="111.4" width="3.4" height="3.12" fill="#f85c40"/>
<rect x="338.1" y="111.4" width="6.8" height="3.12" fill="#b80020"/>
<rect x="344.8" y="111.4" width="3.4" height="3.12" fill="#d80010"/>
<rect x="348.2" y="111.4" width="3.4" height="3.12" fill="#fa0000"/>
<rect x="351.6" y="111.4" width="6.8" height="3.12" fill="#b80020"/>
<rect x="358.4" y="111.4" width="3.4" height="3.12" fill="#fa0000"/>
<rect x="361.8" y="111.4" width="6.8" height="3.12" fill="#f43020"/>
<rect x="368.6" y="111.4" width="3.4" height="3.12" fill="#fa0000"/>
<rect x="372.0" y="111.4" width="3.4" height="3.12" fill="#fdd2b0"/>
<rect x="419.5" y="111.4" width="3.4" height="3.12" fill="#fdd2b0"/>
<rect x="188.7" y="114.5" width="3.4" height="3.12" fill="#fcb48c"/>
<rect x="192.1" y="114.5" width="3.4" height="3.12" fill="#f43020"/>
<rect x="195.5" y="114.5" width="3.4" height="3.12" fill="#fa7e58"/>
<rect x="198.9" y="114.5" width="6.8" height="3.12" fill="#f85c40"/>
<rect x="205.7" y="114.5" width="6.8" height="3.12" fill="#f43020"/>
<rect x="212.5" y="114.5" width="3.4" height="3.12" fill="#fa0000"/>
<rect x="215.9" y="114.5" width="3.4" height="3.12" fill="#f85c40"/>
<rect x="219.3" y="114.5" width="3.4" height="3.12" fill="#fa0000"/>
<rect x="222.7" y="114.5" width="3.4" height="3.12" fill="#f85c40"/>
<rect x="226.1" y="114.5" width="3.4" height="3.12" fill="#d80010"/>
<rect x="229.5" y="114.5" width="3.4" height="3.12" fill="#f43020"/>
<rect x="232.9" y="114.5" width="3.4" height="3.12" fill="#f85c40"/>
<rect x="236.3" y="114.5" width="3.4" height="3.12" fill="#fa0000"/>
<rect x="239.7" y="114.5" width="10.2" height="3.12" fill="#fa7e58"/>
<rect x="256.6" y="114.5" width="3.4" height="3.12" fill="#fdd2b0"/>
<rect x="260.0" y="114.5" width="6.8" height="3.12" fill="#fcb48c"/>
<rect x="270.2" y="114.5" width="3.4" height="3.12" fill="#fdd2b0"/>
<rect x="273.6" y="114.5" width="3.4" height="3.12" fill="#fcb48c"/>
<rect x="334.7" y="114.5" width="3.4" height="3.12" fill="#f43020"/>
<rect x="338.1" y="114.5" width="3.4" height="3.12" fill="#d80010"/>
<rect x="341.5" y="114.5" width="3.4" height="3.12" fill="#a00028"/>
<rect x="344.8" y="114.5" width="6.8" height="3.12" fill="#b80020"/>
<rect x="351.6" y="114.5" width="6.8" height="3.12" fill="#d80010"/>
<rect x="358.4" y="114.5" width="3.4" height="3.12" fill="#f85c40"/>
<rect x="361.8" y="114.5" width="3.4" height="3.12" fill="#fa0000"/>
<rect x="365.2" y="114.5" width="6.8" height="3.12" fill="#f43020"/>
<rect x="372.0" y="114.5" width="3.4" height="3.12" fill="#fa0000"/>
<rect x="378.8" y="114.5" width="6.8" height="3.12" fill="#fdd2b0"/>
<rect x="192.1" y="117.6" width="6.8" height="3.12" fill="#fa7e58"/>
<rect x="198.9" y="117.6" width="3.4" height="3.12" fill="#f85c40"/>
<rect x="202.3" y="117.6" width="6.8" height="3.12" fill="#fa7e58"/>
<rect x="209.1" y="117.6" width="3.4" height="3.12" fill="#f85c40"/>
<rect x="212.5" y="117.6" width="3.4" height="3.12" fill="#d80010"/>
<rect x="215.9" y="117.6" width="3.4" height="3.12" fill="#fa0000"/>
<rect x="219.3" y="117.6" width="3.4" height="3.12" fill="#f43020"/>
<rect x="222.7" y="117.6" width="3.4" height="3.12" fill="#fa0000"/>
<rect x="226.1" y="117.6" width="6.8" height="3.12" fill="#f43020"/>
<rect x="232.9" y="117.6" width="3.4" height="3.12" fill="#fa0000"/>
<rect x="239.7" y="117.6" width="3.4" height="3.12" fill="#fdd2b0"/>
<rect x="270.2" y="117.6" width="3.4" height="3.12" fill="#fdd2b0"/>
<rect x="331.3" y="117.6" width="3.4" height="3.12" fill="#fcb48c"/>
<rect x="341.5" y="117.6" width="3.4" height="3.12" fill="#fdd2b0"/>
<rect x="344.8" y="117.6" width="3.4" height="3.12" fill="#fcb48c"/>
<rect x="348.2" y="117.6" width="3.4" height="3.12" fill="#fdd2b0"/>
<rect x="355.0" y="117.6" width="3.4" height="3.12" fill="#f43020"/>
<rect x="358.4" y="117.6" width="6.8" height="3.12" fill="#fa0000"/>
<rect x="365.2" y="117.6" width="3.4" height="3.12" fill="#f43020"/>
<rect x="368.6" y="117.6" width="3.4" height="3.12" fill="#fcb48c"/>
<rect x="372.0" y="117.6" width="6.8" height="3.12" fill="#fde8d4"/>
<rect x="395.8" y="117.6" width="3.4" height="3.12" fill="#96bcf8"/>
<rect x="192.1" y="120.8" width="6.8" height="3.12" fill="#fa7e58"/>
<rect x="198.9" y="120.8" width="6.8" height="3.12" fill="#fcb48c"/>
<rect x="205.7" y="120.8" width="3.4" height="3.12" fill="#fdd2b0"/>
<rect x="209.1" y="120.8" width="13.6" height="3.12" fill="#fa7e58"/>
<rect x="222.7" y="120.8" width="3.4" height="3.12" fill="#fcb48c"/>
<rect x="226.1" y="120.8" width="6.8" height="3.12" fill="#fde8d4"/>
<rect x="260.0" y="120.8" width="3.4" height="3.12" fill="#fcb48c"/>
<rect x="263.4" y="120.8" width="3.4" height="3.12" fill="#fc9a70"/>
<rect x="266.8" y="120.8" width="3.4" height="3.12" fill="#fa7e58"/>
<rect x="270.2" y="120.8" width="3.4" height="3.12" fill="#f85c40"/>
<rect x="273.6" y="120.8" width="3.4" height="3.12" fill="#fa7e58"/>
<rect x="277.0" y="120.8" width="6.8" height="3.12" fill="#f85c40"/>
<rect x="283.8" y="120.8" width="6.8" height="3.12" fill="#fc9a70"/>
<rect x="355.0" y="120.8" width="3.4" height="3.12" fill="#fde8d4"/>
<rect x="358.4" y="120.8" width="6.8" height="3.12" fill="#f43020"/>
<rect x="188.7" y="123.9" width="6.8" height="3.12" fill="#fdd2b0"/>
<rect x="195.5" y="123.9" width="3.4" height="3.12" fill="#fde8d4"/>
<rect x="212.5" y="123.9" width="3.4" height="3.12" fill="#fcb48c"/>
<rect x="263.4" y="123.9" width="3.4" height="3.12" fill="#fde8d4"/>
<rect x="273.6" y="123.9" width="3.4" height="3.12" fill="#fcb48c"/>
<rect x="277.0" y="123.9" width="3.4" height="3.12" fill="#fde8d4"/>
<rect x="327.9" y="123.9" width="6.8" height="3.12" fill="#fcb48c"/>
<rect x="334.7" y="123.9" width="3.4" height="3.12" fill="#fc9a70"/>
<rect x="338.1" y="123.9" width="3.4" height="3.12" fill="#f85c40"/>
<rect x="341.5" y="123.9" width="3.4" height="3.12" fill="#fcb48c"/>
<rect x="355.0" y="123.9" width="3.4" height="3.12" fill="#fc9a70"/>
<rect x="358.4" y="123.9" width="6.8" height="3.12" fill="#d80010"/>
<rect x="202.3" y="127.0" width="3.4" height="3.12" fill="#fdd2b0"/>
<rect x="205.7" y="127.0" width="3.4" height="3.12" fill="#fa0000"/>
<rect x="277.0" y="127.0" width="3.4" height="3.12" fill="#f85c40"/>
<rect x="334.7" y="127.0" width="3.4" height="3.12" fill="#fc9a70"/>
<rect x="338.1" y="127.0" width="3.4" height="3.12" fill="#f85c40"/>
<rect x="355.0" y="127.0" width="3.4" height="3.12" fill="#fc9a70"/>
<rect x="358.4" y="127.0" width="3.4" height="3.12" fill="#fa0000"/>
<rect x="361.8" y="127.0" width="3.4" height="3.12" fill="#fde8d4"/>
<rect x="429.7" y="127.0" width="3.4" height="3.12" fill="#78a4f8"/>
<rect x="372.0" y="130.1" width="3.4" height="3.12" fill="#f85c40"/>
<rect x="429.7" y="130.1" width="3.4" height="3.12" fill="#78a4f8"/>
<rect x="229.5" y="133.2" width="3.4" height="3.12" fill="#fcb48c"/>
<rect x="372.0" y="133.2" width="3.4" height="3.12" fill="#fc9a70"/>
<rect x="385.6" y="136.4" width="3.4" height="3.12" fill="#fde8d4"/>
<rect x="389.0" y="136.4" width="3.4" height="3.12" fill="#fdd2b0"/>
<rect x="392.4" y="136.4" width="6.8" height="3.12" fill="#fde8d4"/>
<rect x="399.1" y="136.4" width="3.4" height="3.12" fill="#fdd2b0"/>
<rect x="402.5" y="136.4" width="6.8" height="3.12" fill="#fde8d4"/>
<rect x="209.1" y="139.5" width="3.4" height="3.12" fill="#fdd2b0"/>
<rect x="385.6" y="139.5" width="3.4" height="3.12" fill="#fcb48c"/>
<rect x="389.0" y="139.5" width="3.4" height="3.12" fill="#f85c40"/>
<rect x="392.4" y="139.5" width="3.4" height="3.12" fill="#f43020"/>
<rect x="395.8" y="139.5" width="6.8" height="3.12" fill="#f85c40"/>
<rect x="402.5" y="139.5" width="3.4" height="3.12" fill="#f43020"/>
<rect x="405.9" y="139.5" width="3.4" height="3.12" fill="#f85c40"/>
<rect x="409.3" y="139.5" width="3.4" height="3.12" fill="#fa0000"/>
<rect x="412.7" y="139.5" width="3.4" height="3.12" fill="#fcb48c"/>
<rect x="209.1" y="142.6" width="3.4" height="3.12" fill="#fdd2b0"/>
<rect x="344.8" y="142.6" width="3.4" height="3.12" fill="#fcb48c"/>
<rect x="372.0" y="142.6" width="3.4" height="3.12" fill="#fde8d4"/>
<rect x="375.4" y="142.6" width="6.8" height="3.12" fill="#f85c40"/>
<rect x="385.6" y="142.6" width="3.4" height="3.12" fill="#fdd2b0"/>
<rect x="389.0" y="142.6" width="3.4" height="3.12" fill="#f85c40"/>
<rect x="392.4" y="142.6" width="6.8" height="3.12" fill="#f43020"/>
<rect x="399.1" y="142.6" width="6.8" height="3.12" fill="#f85c40"/>
<rect x="405.9" y="142.6" width="3.4" height="3.12" fill="#fa7e58"/>
<rect x="409.3" y="142.6" width="3.4" height="3.12" fill="#f43020"/>
<rect x="412.7" y="142.6" width="3.4" height="3.12" fill="#f85c40"/>
<rect x="416.1" y="142.6" width="3.4" height="3.12" fill="#fdd2b0"/>
<rect x="460.2" y="142.6" width="3.4" height="3.12" fill="#fdd2b0"/>
<rect x="324.5" y="145.8" width="6.8" height="3.12" fill="#f85c40"/>
<rect x="341.5" y="145.8" width="3.4" height="3.12" fill="#fde8d4"/>
<rect x="344.8" y="145.8" width="3.4" height="3.12" fill="#f85c40"/>
<rect x="348.2" y="145.8" width="3.4" height="3.12" fill="#fdd2b0"/>
<rect x="372.0" y="145.8" width="6.8" height="3.12" fill="#f85c40"/>
<rect x="378.8" y="145.8" width="6.8" height="3.12" fill="#d80010"/>
<rect x="385.6" y="145.8" width="3.4" height="3.12" fill="#f43020"/>
<rect x="389.0" y="145.8" width="6.8" height="3.12" fill="#d80010"/>
<rect x="395.8" y="145.8" width="6.8" height="3.12" fill="#f43020"/>
<rect x="402.5" y="145.8" width="3.4" height="3.12" fill="#f85c40"/>
<rect x="405.9" y="145.8" width="3.4" height="3.12" fill="#f43020"/>
<rect x="409.3" y="145.8" width="3.4" height="3.12" fill="#f85c40"/>
<rect x="412.7" y="145.8" width="3.4" height="3.12" fill="#fa7e58"/>
<rect x="456.8" y="145.8" width="3.4" height="3.12" fill="#fa7e58"/>
<rect x="460.2" y="145.8" width="3.4" height="3.12" fill="#fc9a70"/>
<rect x="307.5" y="148.9" width="3.4" height="3.12" fill="#fdd2b0"/>
<rect x="310.9" y="148.9" width="3.4" height="3.12" fill="#fde8d4"/>
<rect x="338.1" y="148.9" width="3.4" height="3.12" fill="#fdd2b0"/>
<rect x="341.5" y="148.9" width="3.4" height="3.12" fill="#f85c40"/>
<rect x="344.8" y="148.9" width="3.4" height="3.12" fill="#fa7e58"/>
<rect x="348.2" y="148.9" width="6.8" height="3.12" fill="#f85c40"/>
<rect x="372.0" y="148.9" width="3.4" height="3.12" fill="#fa0000"/>
<rect x="375.4" y="148.9" width="3.4" height="3.12" fill="#d80010"/>
<rect x="378.8" y="148.9" width="3.4" height="3.12" fill="#f43020"/>
<rect x="382.2" y="148.9" width="3.4" height="3.12" fill="#fa0000"/>
<rect x="385.6" y="148.9" width="3.4" height="3.12" fill="#f43020"/>
<rect x="389.0" y="148.9" width="3.4" height="3.12" fill="#fa0000"/>
<rect x="392.4" y="148.9" width="6.8" height="3.12" fill="#b80020"/>
<rect x="399.1" y="148.9" width="3.4" height="3.12" fill="#a00028"/>
<rect x="402.5" y="148.9" width="3.4" height="3.12" fill="#b80020"/>
<rect x="405.9" y="148.9" width="3.4" height="3.12" fill="#7e0028"/>
<rect x="409.3" y="148.9" width="3.4" height="3.12" fill="#f85c40"/>
<rect x="412.7" y="148.9" width="3.4" height="3.12" fill="#f43020"/>
<rect x="416.1" y="148.9" width="3.4" height="3.12" fill="#fdd2b0"/>
<rect x="433.1" y="148.9" width="3.4" height="3.12" fill="#fde8d4"/>
<rect x="439.9" y="148.9" width="3.4" height="3.12" fill="#fcb48c"/>
<rect x="446.7" y="148.9" width="3.4" height="3.12" fill="#fcb48c"/>
<rect x="450.0" y="148.9" width="6.8" height="3.12" fill="#f85c40"/>
<rect x="456.8" y="148.9" width="3.4" height="3.12" fill="#f43020"/>
<rect x="460.2" y="148.9" width="3.4" height="3.12" fill="#fa0000"/>
<rect x="463.6" y="148.9" width="3.4" height="3.12" fill="#fa7e58"/>
<rect x="290.6" y="152.0" width="3.4" height="3.12" fill="#fcb48c"/>
<rect x="293.9" y="152.0" width="10.2" height="3.12" fill="#f43020"/>
<rect x="304.1" y="152.0" width="3.4" height="3.12" fill="#fa7e58"/>
<rect x="307.5" y="152.0" width="3.4" height="3.12" fill="#f85c40"/>
<rect x="310.9" y="152.0" width="3.4" height="3.12" fill="#fa0000"/>
<rect x="314.3" y="152.0" width="3.4" height="3.12" fill="#f85c40"/>
<rect x="317.7" y="152.0" width="3.4" height="3.12" fill="#fa7e58"/>
<rect x="321.1" y="152.0" width="3.4" height="3.12" fill="#fde8d4"/>
<rect x="327.9" y="152.0" width="3.4" height="3.12" fill="#fcb48c"/>
<rect x="334.7" y="152.0" width="3.4" height="3.12" fill="#fde8d4"/>
<rect x="338.1" y="152.0" width="6.8" height="3.12" fill="#f85c40"/>
<rect x="344.8" y="152.0" width="6.8" height="3.12" fill="#fa7e58"/>
<rect x="351.6" y="152.0" width="3.4" height="3.12" fill="#f85c40"/>
<rect x="372.0" y="152.0" width="3.4" height="3.12" fill="#f43020"/>
<rect x="375.4" y="152.0" width="3.4" height="3.12" fill="#fde8d4"/>
<rect x="385.6" y="152.0" width="6.8" height="3.12" fill="#f43020"/>
<rect x="392.4" y="152.0" width="6.8" height="3.12" fill="#a00028"/>
<rect x="399.1" y="152.0" width="3.4" height="3.12" fill="#b80020"/>
<rect x="402.5" y="152.0" width="3.4" height="3.12" fill="#d80010"/>
<rect x="405.9" y="152.0" width="3.4" height="3.12" fill="#a00028"/>
<rect x="409.3" y="152.0" width="6.8" height="3.12" fill="#fa7e58"/>
<rect x="416.1" y="152.0" width="3.4" height="3.12" fill="#fc9a70"/>
<rect x="419.5" y="152.0" width="3.4" height="3.12" fill="#fde8d4"/>
<rect x="429.7" y="152.0" width="3.4" height="3.12" fill="#f85c40"/>
<rect x="433.1" y="152.0" width="3.4" height="3.12" fill="#fa7e58"/>
<rect x="436.5" y="152.0" width="3.4" height="3.12" fill="#f85c40"/>
<rect x="439.9" y="152.0" width="3.4" height="3.12" fill="#fa7e58"/>
<rect x="443.3" y="152.0" width="3.4" height="3.12" fill="#f85c40"/>
<rect x="446.7" y="152.0" width="3.4" height="3.12" fill="#fc9a70"/>
<rect x="450.0" y="152.0" width="3.4" height="3.12" fill="#f43020"/>
<rect x="453.4" y="152.0" width="3.4" height="3.12" fill="#fc9a70"/>
<rect x="456.8" y="152.0" width="3.4" height="3.12" fill="#d80010"/>
<rect x="460.2" y="152.0" width="6.8" height="3.12" fill="#fa0000"/>
<rect x="467.0" y="152.0" width="3.4" height="3.12" fill="#fde8d4"/>
<rect x="290.6" y="155.1" width="3.4" height="3.12" fill="#fcb48c"/>
<rect x="293.9" y="155.1" width="3.4" height="3.12" fill="#fa7e58"/>
<rect x="297.3" y="155.1" width="3.4" height="3.12" fill="#f85c40"/>
<rect x="300.7" y="155.1" width="6.8" height="3.12" fill="#f43020"/>
<rect x="307.5" y="155.1" width="3.4" height="3.12" fill="#fa7e58"/>
<rect x="310.9" y="155.1" width="13.6" height="3.12" fill="#f43020"/>
<rect x="324.5" y="155.1" width="3.4" height="3.12" fill="#f85c40"/>
<rect x="327.9" y="155.1" width="3.4" height="3.12" fill="#fcb48c"/>
<rect x="331.3" y="155.1" width="3.4" height="3.12" fill="#fdd2b0"/>
<rect x="334.7" y="155.1" width="10.2" height="3.12" fill="#fa7e58"/>
<rect x="344.8" y="155.1" width="3.4" height="3.12" fill="#f85c40"/>
<rect x="348.2" y="155.1" width="3.4" height="3.12" fill="#fdd2b0"/>
<rect x="351.6" y="155.1" width="3.4" height="3.12" fill="#fde8d4"/>
<rect x="372.0" y="155.1" width="3.4" height="3.12" fill="#fcb48c"/>
<rect x="389.0" y="155.1" width="6.8" height="3.12" fill="#d80010"/>
<rect x="395.8" y="155.1" width="3.4" height="3.12" fill="#a00028"/>
<rect x="399.1" y="155.1" width="3.4" height="3.12" fill="#b80020"/>
<rect x="402.5" y="155.1" width="3.4" height="3.12" fill="#d80010"/>
<rect x="405.9" y="155.1" width="3.4" height="3.12" fill="#a00028"/>
<rect x="409.3" y="155.1" width="3.4" height="3.12" fill="#f85c40"/>
<rect x="412.7" y="155.1" width="3.4" height="3.12" fill="#fa7e58"/>
<rect x="416.1" y="155.1" width="3.4" height="3.12" fill="#fcb48c"/>
<rect x="429.7" y="155.1" width="3.4" height="3.12" fill="#fc9a70"/>
<rect x="433.1" y="155.1" width="3.4" height="3.12" fill="#fa7e58"/>
<rect x="436.5" y="155.1" width="3.4" height="3.12" fill="#fc9a70"/>
<rect x="439.9" y="155.1" width="3.4" height="3.12" fill="#fa7e58"/>
<rect x="443.3" y="155.1" width="3.4" height="3.12" fill="#f85c40"/>
<rect x="446.7" y="155.1" width="6.8" height="3.12" fill="#fa7e58"/>
<rect x="453.4" y="155.1" width="3.4" height="3.12" fill="#f85c40"/>
<rect x="456.8" y="155.1" width="6.8" height="3.12" fill="#fa0000"/>
<rect x="463.6" y="155.1" width="3.4" height="3.12" fill="#f43020"/>
<rect x="467.0" y="155.1" width="3.4" height="3.12" fill="#fc9a70"/>
<rect x="277.0" y="158.2" width="6.8" height="3.12" fill="#f85c40"/>
<rect x="290.6" y="158.2" width="3.4" height="3.12" fill="#f85c40"/>
<rect x="293.9" y="158.2" width="3.4" height="3.12" fill="#f43020"/>
<rect x="297.3" y="158.2" width="3.4" height="3.12" fill="#fa0000"/>
<rect x="300.7" y="158.2" width="13.6" height="3.12" fill="#f85c40"/>
<rect x="314.3" y="158.2" width="17.0" height="3.12" fill="#f43020"/>
<rect x="331.3" y="158.2" width="6.8" height="3.12" fill="#fdd2b0"/>
<rect x="338.1" y="158.2" width="3.4" height="3.12" fill="#f85c40"/>
<rect x="389.0" y="158.2" width="3.4" height="3.12" fill="#fcb48c"/>
<rect x="392.4" y="158.2" width="3.4" height="3.12" fill="#d80010"/>
<rect x="395.8" y="158.2" width="3.4" height="3.12" fill="#a00028"/>
<rect x="399.1" y="158.2" width="3.4" height="3.12" fill="#d80010"/>
<rect x="402.5" y="158.2" width="6.8" height="3.12" fill="#b80020"/>
<rect x="409.3" y="158.2" width="3.4" height="3.12" fill="#f43020"/>
<rect x="412.7" y="158.2" width="3.4" height="3.12" fill="#fa7e58"/>
<rect x="429.7" y="158.2" width="3.4" height="3.12" fill="#fde8d4"/>
<rect x="433.1" y="158.2" width="3.4" height="3.12" fill="#fc9a70"/>
<rect x="436.5" y="158.2" width="3.4" height="3.12" fill="#f85c40"/>
<rect x="439.9" y="158.2" width="3.4" height="3.12" fill="#f43020"/>
<rect x="443.3" y="158.2" width="3.4" height="3.12" fill="#fa7e58"/>
<rect x="450.0" y="158.2" width="3.4" height="3.12" fill="#fa7e58"/>
<rect x="453.4" y="158.2" width="3.4" height="3.12" fill="#f43020"/>
<rect x="456.8" y="158.2" width="6.8" height="3.12" fill="#f85c40"/>
<rect x="463.6" y="158.2" width="3.4" height="3.12" fill="#d80010"/>
<rect x="467.0" y="158.2" width="3.4" height="3.12" fill="#fa0000"/>
<rect x="283.8" y="161.4" width="3.4" height="3.12" fill="#fa7e58"/>
<rect x="287.2" y="161.4" width="3.4" height="3.12" fill="#f85c40"/>
<rect x="290.6" y="161.4" width="3.4" height="3.12" fill="#fa0000"/>
<rect x="293.9" y="161.4" width="3.4" height="3.12" fill="#f85c40"/>
<rect x="297.3" y="161.4" width="6.8" height="3.12" fill="#f43020"/>
<rect x="304.1" y="161.4" width="3.4" height="3.12" fill="#f85c40"/>
<rect x="310.9" y="161.4" width="3.4" height="3.12" fill="#f43020"/>
<rect x="314.3" y="161.4" width="3.4" height="3.12" fill="#f85c40"/>
<rect x="317.7" y="161.4" width="3.4" height="3.12" fill="#f43020"/>
<rect x="321.1" y="161.4" width="3.4" height="3.12" fill="#fa7e58"/>
<rect x="324.5" y="161.4" width="3.4" height="3.12" fill="#f43020"/>
<rect x="327.9" y="161.4" width="3.4" height="3.12" fill="#f85c40"/>
<rect x="331.3" y="161.4" width="3.4" height="3.12" fill="#f43020"/>
<rect x="334.7" y="161.4" width="3.4" height="3.12" fill="#fcb48c"/>
<rect x="358.4" y="161.4" width="3.4" height="3.12" fill="#b4d4f8"/>
<rect x="395.8" y="161.4" width="3.4" height="3.12" fill="#fcb48c"/>
<rect x="399.1" y="161.4" width="3.4" height="3.12" fill="#f43020"/>
<rect x="402.5" y="161.4" width="3.4" height="3.12" fill="#d80010"/>
<rect x="405.9" y="161.4" width="3.4" height="3.12" fill="#fcb48c"/>
<rect x="436.5" y="161.4" width="3.4" height="3.12" fill="#f85c40"/>
<rect x="460.2" y="161.4" width="3.4" height="3.12" fill="#f85c40"/>
<rect x="463.6" y="161.4" width="3.4" height="3.12" fill="#b80020"/>
<rect x="467.0" y="161.4" width="3.4" height="3.12" fill="#d80010"/>
<rect x="470.4" y="161.4" width="3.4" height="3.12" fill="#fa0000"/>
<rect x="473.8" y="161.4" width="3.4" height="3.12" fill="#fcb48c"/>
<rect x="283.8" y="164.5" width="6.8" height="3.12" fill="#fa7e58"/>
<rect x="290.6" y="164.5" width="3.4" height="3.12" fill="#f85c40"/>
<rect x="293.9" y="164.5" width="6.8" height="3.12" fill="#f43020"/>
<rect x="300.7" y="164.5" width="6.8" height="3.12" fill="#f85c40"/>
<rect x="321.1" y="164.5" width="3.4" height="3.12" fill="#fde8d4"/>
<rect x="324.5" y="164.5" width="3.4" height="3.12" fill="#f43020"/>
<rect x="327.9" y="164.5" width="3.4" height="3.12" fill="#f85c40"/>
<rect x="331.3" y="164.5" width="3.4" height="3.12" fill="#fcb48c"/>
<rect x="358.4" y="164.5" width="3.4" height="3.12" fill="#b4d4f8"/>
<rect x="392.4" y="164.5" width="3.4" height="3.12" fill="#d8ecfc"/>
<rect x="395.8" y="164.5" width="3.4" height="3.12" fill="#fde8d4"/>
<rect x="412.7" y="164.5" width="3.4" height="3.12" fill="#f85c40"/>
<rect x="416.1" y="164.5" width="3.4" height="3.12" fill="#fde8d4"/>
<rect x="419.5" y="164.5" width="6.8" height="3.12" fill="#fdd2b0"/>
<rect x="446.7" y="164.5" width="3.4" height="3.12" fill="#fcb48c"/>
<rect x="463.6" y="164.5" width="3.4" height="3.12" fill="#f43020"/>
<rect x="467.0" y="164.5" width="3.4" height="3.12" fill="#d80010"/>
<rect x="470.4" y="164.5" width="3.4" height="3.12" fill="#f43020"/>
<rect x="188.7" y="167.6" width="3.4" height="3.12" fill="#fcb48c"/>
<rect x="236.3" y="167.6" width="3.4" height="3.12" fill="#96bcf8"/>
<rect x="283.8" y="167.6" width="6.8" height="3.12" fill="#f43020"/>
<rect x="290.6" y="167.6" width="10.2" height="3.12" fill="#f85c40"/>
<rect x="300.7" y="167.6" width="3.4" height="3.12" fill="#7e0028"/>
<rect x="304.1" y="167.6" width="3.4" height="3.12" fill="#a00028"/>
<rect x="307.5" y="167.6" width="3.4" height="3.12" fill="#f43020"/>
<rect x="324.5" y="167.6" width="3.4" height="3.12" fill="#fdd2b0"/>
<rect x="365.2" y="167.6" width="6.8" height="3.12" fill="#fc9a70"/>
<rect x="385.6" y="167.6" width="3.4" height="3.12" fill="#d8ecfc"/>
<rect x="389.0" y="167.6" width="6.8" height="3.12" fill="#b4d4f8"/>
<rect x="395.8" y="167.6" width="3.4" height="3.12" fill="#96bcf8"/>
<rect x="412.7" y="167.6" width="3.4" height="3.12" fill="#f85c40"/>
<rect x="416.1" y="167.6" width="3.4" height="3.12" fill="#fa7e58"/>
<rect x="419.5" y="167.6" width="3.4" height="3.12" fill="#fa0000"/>
<rect x="422.9" y="167.6" width="3.4" height="3.12" fill="#fa7e58"/>
<rect x="426.3" y="167.6" width="3.4" height="3.12" fill="#f85c40"/>
<rect x="439.9" y="167.6" width="3.4" height="3.12" fill="#d8ecfc"/>
<rect x="443.3" y="167.6" width="3.4" height="3.12" fill="#b4d4f8"/>
<rect x="450.0" y="167.6" width="3.4" height="3.12" fill="#fc9a70"/>
<rect x="453.4" y="167.6" width="3.4" height="3.12" fill="#f85c40"/>
<rect x="456.8" y="167.6" width="3.4" height="3.12" fill="#fc9a70"/>
<rect x="467.0" y="167.6" width="6.8" height="3.12" fill="#d80010"/>
<rect x="226.1" y="170.8" width="3.4" height="3.12" fill="#78a4f8"/>
<rect x="229.5" y="170.8" width="6.8" height="3.12" fill="#b4d4f8"/>
<rect x="236.3" y="170.8" width="3.4" height="3.12" fill="#96bcf8"/>
<rect x="280.4" y="170.8" width="3.4" height="3.12" fill="#f85c40"/>
<rect x="283.8" y="170.8" width="3.4" height="3.12" fill="#f43020"/>
<rect x="287.2" y="170.8" width="3.4" height="3.12" fill="#fa7e58"/>
<rect x="290.6" y="170.8" width="6.8" height="3.12" fill="#f43020"/>
<rect x="297.3" y="170.8" width="3.4" height="3.12" fill="#a00028"/>
<rect x="300.7" y="170.8" width="3.4" height="3.12" fill="#d80010"/>
<rect x="304.1" y="170.8" width="6.8" height="3.12" fill="#a00028"/>
<rect x="310.9" y="170.8" width="3.4" height="3.12" fill="#f43020"/>
<rect x="314.3" y="170.8" width="3.4" height="3.12" fill="#fdd2b0"/>
<rect x="358.4" y="170.8" width="3.4" height="3.12" fill="#fcb48c"/>
<rect x="361.8" y="170.8" width="6.8" height="3.12" fill="#fa7e58"/>
<rect x="382.2" y="170.8" width="3.4" height="3.12" fill="#b4d4f8"/>
<rect x="385.6" y="170.8" width="3.4" height="3.12" fill="#d8ecfc"/>
<rect x="389.0" y="170.8" width="3.4" height="3.12" fill="#b4d4f8"/>
<rect x="392.4" y="170.8" width="3.4" height="3.12" fill="#96bcf8"/>
<rect x="395.8" y="170.8" width="10.2" height="3.12" fill="#d8ecfc"/>
<rect x="409.3" y="170.8" width="6.8" height="3.12" fill="#f85c40"/>
<rect x="416.1" y="170.8" width="3.4" height="3.12" fill="#f43020"/>
<rect x="419.5" y="170.8" width="3.4" height="3.12" fill="#fa0000"/>
<rect x="422.9" y="170.8" width="3.4" height="3.12" fill="#f85c40"/>
<rect x="426.3" y="170.8" width="3.4" height="3.12" fill="#f43020"/>
<rect x="429.7" y="170.8" width="3.4" height="3.12" fill="#fcb48c"/>
<rect x="433.1" y="170.8" width="3.4" height="3.12" fill="#fdd2b0"/>
<rect x="439.9" y="170.8" width="3.4" height="3.12" fill="#b4d4f8"/>
<rect x="443.3" y="170.8" width="3.4" height="3.12" fill="#d8ecfc"/>
<rect x="470.4" y="170.8" width="3.4" height="3.12" fill="#f85c40"/>
<rect x="473.8" y="170.8" width="3.4" height="3.12" fill="#fcb48c"/>
<rect x="226.1" y="173.9" width="3.4" height="3.12" fill="#96bcf8"/>
<rect x="229.5" y="173.9" width="10.2" height="3.12" fill="#78a4f8"/>
<rect x="280.4" y="173.9" width="3.4" height="3.12" fill="#f85c40"/>
<rect x="283.8" y="173.9" width="3.4" height="3.12" fill="#f43020"/>
<rect x="287.2" y="173.9" width="3.4" height="3.12" fill="#f85c40"/>
<rect x="290.6" y="173.9" width="6.8" height="3.12" fill="#f43020"/>
<rect x="297.3" y="173.9" width="3.4" height="3.12" fill="#fa7e58"/>
<rect x="300.7" y="173.9" width="6.8" height="3.12" fill="#a00028"/>
<rect x="307.5" y="173.9" width="3.4" height="3.12" fill="#d80010"/>
<rect x="310.9" y="173.9" width="3.4" height="3.12" fill="#b80020"/>
<rect x="314.3" y="173.9" width="3.4" height="3.12" fill="#f43020"/>
<rect x="361.8" y="173.9" width="6.8" height="3.12" fill="#fa7e58"/>
<rect x="385.6" y="173.9" width="3.4" height="3.12" fill="#b4d4f8"/>
<rect x="389.0" y="173.9" width="13.6" height="3.12" fill="#d8ecfc"/>
<rect x="402.5" y="173.9" width="3.4" height="3.12" fill="#96bcf8"/>
<rect x="405.9" y="173.9" width="3.4" height="3.12" fill="#fde8d4"/>
<rect x="409.3" y="173.9" width="3.4" height="3.12" fill="#f85c40"/>
<rect x="412.7" y="173.9" width="3.4" height="3.12" fill="#f43020"/>
<rect x="416.1" y="173.9" width="3.4" height="3.12" fill="#fa0000"/>
<rect x="419.5" y="173.9" width="6.8" height="3.12" fill="#f85c40"/>
<rect x="426.3" y="173.9" width="3.4" height="3.12" fill="#f43020"/>
<rect x="429.7" y="173.9" width="3.4" height="3.12" fill="#fa0000"/>
<rect x="433.1" y="173.9" width="3.4" height="3.12" fill="#fde8d4"/>
<rect x="229.5" y="177.0" width="6.8" height="3.12" fill="#78a4f8"/>
<rect x="236.3" y="177.0" width="3.4" height="3.12" fill="#b4d4f8"/>
<rect x="280.4" y="177.0" width="3.4" height="3.12" fill="#f85c40"/>
<rect x="283.8" y="177.0" width="3.4" height="3.12" fill="#fa0000"/>
<rect x="287.2" y="177.0" width="3.4" height="3.12" fill="#f85c40"/>
<rect x="290.6" y="177.0" width="3.4" height="3.12" fill="#fa7e58"/>
<rect x="293.9" y="177.0" width="3.4" height="3.12" fill="#f85c40"/>
<rect x="297.3" y="177.0" width="3.4" height="3.12" fill="#f43020"/>
<rect x="300.7" y="177.0" width="3.4" height="3.12" fill="#fa0000"/>
<rect x="304.1" y="177.0" width="10.2" height="3.12" fill="#a00028"/>
<rect x="314.3" y="177.0" width="3.4" height="3.12" fill="#f85c40"/>
<rect x="317.7" y="177.0" width="3.4" height="3.12" fill="#fdd2b0"/>
<rect x="348.2" y="177.0" width="3.4" height="3.12" fill="#b4d4f8"/>
<rect x="361.8" y="177.0" width="6.8" height="3.12" fill="#fa7e58"/>
<rect x="392.4" y="177.0" width="3.4" height="3.12" fill="#b4d4f8"/>
<rect x="395.8" y="177.0" width="3.4" height="3.12" fill="#d8ecfc"/>
<rect x="399.1" y="177.0" width="3.4" height="3.12" fill="#96bcf8"/>
<rect x="409.3" y="177.0" width="3.4" height="3.12" fill="#fa7e58"/>
<rect x="412.7" y="177.0" width="10.2" height="3.12" fill="#f43020"/>
<rect x="422.9" y="177.0" width="3.4" height="3.12" fill="#fcb48c"/>
<rect x="429.7" y="177.0" width="3.4" height="3.12" fill="#fdd2b0"/>
<rect x="433.1" y="177.0" width="10.2" height="3.12" fill="#fcb48c"/>
<rect x="467.0" y="177.0" width="3.4" height="3.12" fill="#fde8d4"/>
<rect x="470.4" y="177.0" width="3.4" height="3.12" fill="#fcb48c"/>
<rect x="229.5" y="180.1" width="6.8" height="3.12" fill="#96bcf8"/>
<rect x="236.3" y="180.1" width="3.4" height="3.12" fill="#78a4f8"/>
<rect x="277.0" y="180.1" width="3.4" height="3.12" fill="#fcb48c"/>
<rect x="283.8" y="180.1" width="3.4" height="3.12" fill="#f43020"/>
<rect x="287.2" y="180.1" width="3.4" height="3.12" fill="#f85c40"/>
<rect x="290.6" y="180.1" width="3.4" height="3.12" fill="#fa0000"/>
<rect x="293.9" y="180.1" width="3.4" height="3.12" fill="#f85c40"/>
<rect x="297.3" y="180.1" width="3.4" height="3.12" fill="#f43020"/>
<rect x="300.7" y="180.1" width="3.4" height="3.12" fill="#f85c40"/>
<rect x="304.1" y="180.1" width="3.4" height="3.12" fill="#f43020"/>
<rect x="307.5" y="180.1" width="3.4" height="3.12" fill="#b80020"/>
<rect x="310.9" y="180.1" width="3.4" height="3.12" fill="#d80010"/>
<rect x="314.3" y="180.1" width="3.4" height="3.12" fill="#f43020"/>
<rect x="338.1" y="180.1" width="3.4" height="3.12" fill="#fcb48c"/>
<rect x="348.2" y="180.1" width="6.8" height="3.12" fill="#b4d4f8"/>
<rect x="405.9" y="180.1" width="3.4" height="3.12" fill="#5e8af8"/>
<rect x="409.3" y="180.1" width="3.4" height="3.12" fill="#fdd2b0"/>
<rect x="412.7" y="180.1" width="3.4" height="3.12" fill="#fa7e58"/>
<rect x="416.1" y="180.1" width="3.4" height="3.12" fill="#f43020"/>
<rect x="467.0" y="180.1" width="6.8" height="3.12" fill="#fdd2b0"/>
<rect x="266.8" y="183.2" width="3.4" height="3.12" fill="#b4d4f8"/>
<rect x="283.8" y="183.2" width="3.4" height="3.12" fill="#fcb48c"/>
<rect x="287.2" y="183.2" width="6.8" height="3.12" fill="#fa7e58"/>
<rect x="293.9" y="183.2" width="6.8" height="3.12" fill="#f85c40"/>
<rect x="300.7" y="183.2" width="3.4" height="3.12" fill="#fa7e58"/>
<rect x="304.1" y="183.2" width="3.4" height="3.12" fill="#f43020"/>
<rect x="310.9" y="183.2" width="3.4" height="3.12" fill="#f85c40"/>
<rect x="321.1" y="183.2" width="3.4" height="3.12" fill="#b4d4f8"/>
<rect x="344.8" y="183.2" width="6.8" height="3.12" fill="#78a4f8"/>
<rect x="351.6" y="183.2" width="3.4" height="3.12" fill="#b4d4f8"/>
<rect x="412.7" y="183.2" width="3.4" height="3.12" fill="#fdd2b0"/>
<rect x="433.1" y="183.2" width="3.4" height="3.12" fill="#b4d4f8"/>
<rect x="243.0" y="186.4" width="3.4" height="3.12" fill="#fa0000"/>
<rect x="246.4" y="186.4" width="3.4" height="3.12" fill="#f85c40"/>
<rect x="263.4" y="186.4" width="6.8" height="3.12" fill="#fa0000"/>
<rect x="270.2" y="186.4" width="3.4" height="3.12" fill="#a00028"/>
<rect x="287.2" y="186.4" width="3.4" height="3.12" fill="#fc9a70"/>
<rect x="290.6" y="186.4" width="6.8" height="3.12" fill="#f85c40"/>
<rect x="297.3" y="186.4" width="3.4" height="3.12" fill="#fc9a70"/>
<rect x="304.1" y="186.4" width="3.4" height="3.12" fill="#f43020"/>
<rect x="344.8" y="186.4" width="3.4" height="3.12" fill="#96bcf8"/>
<rect x="348.2" y="186.4" width="3.4" height="3.12" fill="#2846ff"/>
<rect x="351.6" y="186.4" width="3.4" height="3.12" fill="#96bcf8"/>
<rect x="355.0" y="186.4" width="6.8" height="3.12" fill="#b4d4f8"/>
<rect x="368.6" y="186.4" width="3.4" height="3.12" fill="#b4d4f8"/>
<rect x="439.9" y="186.4" width="10.2" height="3.12" fill="#d8ecfc"/>
<rect x="273.6" y="189.5" width="3.4" height="3.12" fill="#f85c40"/>
<rect x="277.0" y="189.5" width="3.4" height="3.12" fill="#fcb48c"/>
<rect x="283.8" y="189.5" width="3.4" height="3.12" fill="#fde8d4"/>
<rect x="287.2" y="189.5" width="6.8" height="3.12" fill="#fa7e58"/>
<rect x="293.9" y="189.5" width="3.4" height="3.12" fill="#fc9a70"/>
<rect x="297.3" y="189.5" width="3.4" height="3.12" fill="#fcb48c"/>
<rect x="348.2" y="189.5" width="3.4" height="3.12" fill="#96bcf8"/>
<rect x="351.6" y="189.5" width="3.4" height="3.12" fill="#78a4f8"/>
<rect x="355.0" y="189.5" width="6.8" height="3.12" fill="#5e8af8"/>
<rect x="361.8" y="189.5" width="3.4" height="3.12" fill="#78a4f8"/>
<rect x="365.2" y="189.5" width="10.2" height="3.12" fill="#b4d4f8"/>
<rect x="412.7" y="189.5" width="3.4" height="3.12" fill="#b4d4f8"/>
<rect x="439.9" y="189.5" width="3.4" height="3.12" fill="#d8ecfc"/>
<rect x="443.3" y="189.5" width="3.4" height="3.12" fill="#96bcf8"/>
<rect x="456.8" y="189.5" width="3.4" height="3.12" fill="#b4d4f8"/>
<rect x="283.8" y="192.6" width="3.4" height="3.12" fill="#fcb48c"/>
<rect x="321.1" y="192.6" width="3.4" height="3.12" fill="#fcb48c"/>
<rect x="348.2" y="192.6" width="3.4" height="3.12" fill="#b4d4f8"/>
<rect x="351.6" y="192.6" width="3.4" height="3.12" fill="#78a4f8"/>
<rect x="355.0" y="192.6" width="3.4" height="3.12" fill="#96bcf8"/>
<rect x="358.4" y="192.6" width="3.4" height="3.12" fill="#78a4f8"/>
<rect x="361.8" y="192.6" width="3.4" height="3.12" fill="#5e8af8"/>
<rect x="365.2" y="192.6" width="3.4" height="3.12" fill="#78a4f8"/>
<rect x="368.6" y="192.6" width="3.4" height="3.12" fill="#5e8af8"/>
<rect x="405.9" y="192.6" width="6.8" height="3.12" fill="#78a4f8"/>
<rect x="412.7" y="192.6" width="3.4" height="3.12" fill="#b4d4f8"/>
<rect x="439.9" y="192.6" width="3.4" height="3.12" fill="#b4d4f8"/>
<rect x="443.3" y="192.6" width="3.4" height="3.12" fill="#96bcf8"/>
<rect x="446.7" y="192.6" width="3.4" height="3.12" fill="#d8ecfc"/>
<rect x="321.1" y="195.8" width="6.8" height="3.12" fill="#fc9a70"/>
<rect x="355.0" y="195.8" width="3.4" height="3.12" fill="#96bcf8"/>
<rect x="358.4" y="195.8" width="10.2" height="3.12" fill="#78a4f8"/>
<rect x="368.6" y="195.8" width="3.4" height="3.12" fill="#96bcf8"/>
<rect x="399.1" y="195.8" width="3.4" height="3.12" fill="#b4d4f8"/>
<rect x="402.5" y="195.8" width="10.2" height="3.12" fill="#78a4f8"/>
<rect x="412.7" y="195.8" width="3.4" height="3.12" fill="#b4d4f8"/>
<rect x="416.1" y="195.8" width="3.4" height="3.12" fill="#78a4f8"/>
<rect x="419.5" y="195.8" width="3.4" height="3.12" fill="#96bcf8"/>
<rect x="439.9" y="195.8" width="3.4" height="3.12" fill="#d8ecfc"/>
<rect x="443.3" y="195.8" width="6.8" height="3.12" fill="#96bcf8"/>
<rect x="321.1" y="198.9" width="3.4" height="3.12" fill="#fc9a70"/>
<rect x="361.8" y="198.9" width="3.4" height="3.12" fill="#5e8af8"/>
<rect x="365.2" y="198.9" width="3.4" height="3.12" fill="#78a4f8"/>
<rect x="368.6" y="198.9" width="3.4" height="3.12" fill="#b4d4f8"/>
<rect x="375.4" y="198.9" width="3.4" height="3.12" fill="#d8ecfc"/>
<rect x="378.8" y="198.9" width="3.4" height="3.12" fill="#b4d4f8"/>
<rect x="399.1" y="198.9" width="3.4" height="3.12" fill="#78a4f8"/>
<rect x="402.5" y="198.9" width="3.4" height="3.12" fill="#5e8af8"/>
<rect x="405.9" y="198.9" width="3.4" height="3.12" fill="#96bcf8"/>
<rect x="409.3" y="198.9" width="3.4" height="3.12" fill="#78a4f8"/>
<rect x="443.3" y="198.9" width="3.4" height="3.12" fill="#b4d4f8"/>
<rect x="446.7" y="198.9" width="3.4" height="3.12" fill="#96bcf8"/>
<rect x="321.1" y="202.0" width="3.4" height="3.12" fill="#fcb48c"/>
<rect x="361.8" y="202.0" width="3.4" height="3.12" fill="#78a4f8"/>
<rect x="375.4" y="202.0" width="3.4" height="3.12" fill="#d8ecfc"/>
<rect x="378.8" y="202.0" width="3.4" height="3.12" fill="#b4d4f8"/>
<rect x="399.1" y="202.0" width="3.4" height="3.12" fill="#78a4f8"/>
<rect x="402.5" y="202.0" width="3.4" height="3.12" fill="#5e8af8"/>
<rect x="405.9" y="202.0" width="6.8" height="3.12" fill="#96bcf8"/>
<rect x="412.7" y="202.0" width="10.2" height="3.12" fill="#b4d4f8"/>
<rect x="426.3" y="202.0" width="3.4" height="3.12" fill="#b4d4f8"/>
<rect x="327.9" y="205.1" width="3.4" height="3.12" fill="#fa0000"/>
<rect x="365.2" y="205.1" width="3.4" height="3.12" fill="#b4d4f8"/>
<rect x="385.6" y="205.1" width="6.8" height="3.12" fill="#b4d4f8"/>
<rect x="392.4" y="205.1" width="6.8" height="3.12" fill="#96bcf8"/>
<rect x="399.1" y="205.1" width="3.4" height="3.12" fill="#78a4f8"/>
<rect x="402.5" y="205.1" width="3.4" height="3.12" fill="#b4d4f8"/>
<rect x="405.9" y="205.1" width="6.8" height="3.12" fill="#78a4f8"/>
<rect x="412.7" y="205.1" width="3.4" height="3.12" fill="#96bcf8"/>
<rect x="416.1" y="205.1" width="3.4" height="3.12" fill="#78a4f8"/>
<rect x="419.5" y="205.1" width="3.4" height="3.12" fill="#96bcf8"/>
<rect x="422.9" y="205.1" width="3.4" height="3.12" fill="#78a4f8"/>
<rect x="321.1" y="208.2" width="3.4" height="3.12" fill="#fc9a70"/>
<rect x="324.5" y="208.2" width="3.4" height="3.12" fill="#fdd2b0"/>
<rect x="327.9" y="208.2" width="10.2" height="3.12" fill="#fcb48c"/>
<rect x="365.2" y="208.2" width="6.8" height="3.12" fill="#fcb48c"/>
<rect x="382.2" y="208.2" width="3.4" height="3.12" fill="#b4d4f8"/>
<rect x="385.6" y="208.2" width="3.4" height="3.12" fill="#96bcf8"/>
<rect x="389.0" y="208.2" width="3.4" height="3.12" fill="#78a4f8"/>
<rect x="392.4" y="208.2" width="3.4" height="3.12" fill="#b4d4f8"/>
<rect x="395.8" y="208.2" width="3.4" height="3.12" fill="#78a4f8"/>
<rect x="399.1" y="208.2" width="6.8" height="3.12" fill="#96bcf8"/>
<rect x="405.9" y="208.2" width="3.4" height="3.12" fill="#78a4f8"/>
<rect x="409.3" y="208.2" width="3.4" height="3.12" fill="#96bcf8"/>
<rect x="412.7" y="208.2" width="3.4" height="3.12" fill="#5e8af8"/>
<rect x="416.1" y="208.2" width="3.4" height="3.12" fill="#0000ff"/>
<rect x="419.5" y="208.2" width="3.4" height="3.12" fill="#2846ff"/>
<rect x="422.9" y="208.2" width="3.4" height="3.12" fill="#4464ff"/>
<rect x="426.3" y="208.2" width="3.4" height="3.12" fill="#5e8af8"/>
<rect x="429.7" y="208.2" width="3.4" height="3.12" fill="#b4d4f8"/>
<rect x="321.1" y="211.4" width="3.4" height="3.12" fill="#fdd2b0"/>
<rect x="324.5" y="211.4" width="3.4" height="3.12" fill="#fcb48c"/>
<rect x="327.9" y="211.4" width="3.4" height="3.12" fill="#fdd2b0"/>
<rect x="331.3" y="211.4" width="3.4" height="3.12" fill="#fc9a70"/>
<rect x="334.7" y="211.4" width="3.4" height="3.12" fill="#fdd2b0"/>
<rect x="375.4" y="211.4" width="3.4" height="3.12" fill="#b4d4f8"/>
<rect x="378.8" y="211.4" width="6.8" height="3.12" fill="#d8ecfc"/>
<rect x="385.6" y="211.4" width="3.4" height="3.12" fill="#96bcf8"/>
<rect x="389.0" y="211.4" width="3.4" height="3.12" fill="#b4d4f8"/>
<rect x="392.4" y="211.4" width="3.4" height="3.12" fill="#2846ff"/>
<rect x="395.8" y="211.4" width="3.4" height="3.12" fill="#5e8af8"/>
<rect x="399.1" y="211.4" width="3.4" height="3.12" fill="#b4d4f8"/>
<rect x="409.3" y="211.4" width="3.4" height="3.12" fill="#b4d4f8"/>
<rect x="412.7" y="211.4" width="3.4" height="3.12" fill="#96bcf8"/>
<rect x="416.1" y="211.4" width="3.4" height="3.12" fill="#2846ff"/>
<rect x="419.5" y="211.4" width="3.4" height="3.12" fill="#4464ff"/>
<rect x="422.9" y="211.4" width="3.4" height="3.12" fill="#2846ff"/>
<rect x="426.3" y="211.4" width="6.8" height="3.12" fill="#5e8af8"/>
<rect x="433.1" y="211.4" width="6.8" height="3.12" fill="#b4d4f8"/>
<rect x="348.2" y="214.5" width="3.4" height="3.12" fill="#f85c40"/>
<rect x="351.6" y="214.5" width="3.4" height="3.12" fill="#f43020"/>
<rect x="375.4" y="214.5" width="3.4" height="3.12" fill="#d8ecfc"/>
<rect x="378.8" y="214.5" width="3.4" height="3.12" fill="#96bcf8"/>
<rect x="385.6" y="214.5" width="3.4" height="3.12" fill="#b4d4f8"/>
<rect x="392.4" y="214.5" width="3.4" height="3.12" fill="#0000ff"/>
<rect x="395.8" y="214.5" width="3.4" height="3.12" fill="#5e8af8"/>
<rect x="399.1" y="214.5" width="3.4" height="3.12" fill="#96bcf8"/>
<rect x="409.3" y="214.5" width="6.8" height="3.12" fill="#78a4f8"/>
<rect x="416.1" y="214.5" width="3.4" height="3.12" fill="#4464ff"/>
<rect x="419.5" y="214.5" width="3.4" height="3.12" fill="#78a4f8"/>
<rect x="422.9" y="214.5" width="3.4" height="3.12" fill="#5e8af8"/>
<rect x="426.3" y="214.5" width="3.4" height="3.12" fill="#96bcf8"/>
<rect x="429.7" y="214.5" width="3.4" height="3.12" fill="#78a4f8"/>
<rect x="348.2" y="217.6" width="6.8" height="3.12" fill="#fa7e58"/>
<rect x="358.4" y="217.6" width="3.4" height="3.12" fill="#5e8af8"/>
<rect x="361.8" y="217.6" width="3.4" height="3.12" fill="#2846ff"/>
<rect x="365.2" y="217.6" width="3.4" height="3.12" fill="#5e8af8"/>
<rect x="368.6" y="217.6" width="3.4" height="3.12" fill="#4464ff"/>
<rect x="372.0" y="217.6" width="3.4" height="3.12" fill="#5e8af8"/>
<rect x="385.6" y="217.6" width="6.8" height="3.12" fill="#b4d4f8"/>
<rect x="392.4" y="217.6" width="6.8" height="3.12" fill="#0000ff"/>
<rect x="399.1" y="217.6" width="3.4" height="3.12" fill="#96bcf8"/>
<rect x="402.5" y="217.6" width="3.4" height="3.12" fill="#78a4f8"/>
<rect x="405.9" y="217.6" width="3.4" height="3.12" fill="#2846ff"/>
<rect x="409.3" y="217.6" width="3.4" height="3.12" fill="#4464ff"/>
<rect x="412.7" y="217.6" width="6.8" height="3.12" fill="#5e8af8"/>
<rect x="419.5" y="217.6" width="3.4" height="3.12" fill="#fdd2b0"/>
<rect x="422.9" y="217.6" width="3.4" height="3.12" fill="#5e8af8"/>
<rect x="426.3" y="217.6" width="3.4" height="3.12" fill="#4464ff"/>
<rect x="429.7" y="217.6" width="3.4" height="3.12" fill="#78a4f8"/>
<rect x="433.1" y="217.6" width="3.4" height="3.12" fill="#b4d4f8"/>
<rect x="385.6" y="220.8" width="6.8" height="3.12" fill="#b4d4f8"/>
<rect x="392.4" y="220.8" width="3.4" height="3.12" fill="#0000ff"/>
<rect x="395.8" y="220.8" width="3.4" height="3.12" fill="#4464ff"/>
<rect x="399.1" y="220.8" width="3.4" height="3.12" fill="#78a4f8"/>
<rect x="402.5" y="220.8" width="3.4" height="3.12" fill="#96bcf8"/>
<rect x="405.9" y="220.8" width="3.4" height="3.12" fill="#2846ff"/>
<rect x="409.3" y="220.8" width="3.4" height="3.12" fill="#4464ff"/>
<rect x="412.7" y="220.8" width="10.2" height="3.12" fill="#b4d4f8"/>
<rect x="426.3" y="220.8" width="10.2" height="3.12" fill="#b4d4f8"/>
<rect x="389.0" y="223.9" width="3.4" height="3.12" fill="#78a4f8"/>
<rect x="392.4" y="223.9" width="3.4" height="3.12" fill="#2846ff"/>
<rect x="395.8" y="223.9" width="3.4" height="3.12" fill="#5e8af8"/>
<rect x="399.1" y="223.9" width="13.6" height="3.12" fill="#4464ff"/>
<rect x="412.7" y="223.9" width="3.4" height="3.12" fill="#b4d4f8"/>
<rect x="331.3" y="227.0" width="3.4" height="3.12" fill="#fdd2b0"/>
<rect x="389.0" y="227.0" width="3.4" height="3.12" fill="#5e8af8"/>
<rect x="392.4" y="227.0" width="3.4" height="3.12" fill="#78a4f8"/>
<rect x="395.8" y="227.0" width="13.6" height="3.12" fill="#96bcf8"/>
<rect x="409.3" y="227.0" width="3.4" height="3.12" fill="#78a4f8"/>
<rect x="412.7" y="227.0" width="3.4" height="3.12" fill="#b4d4f8"/>
<rect x="395.8" y="242.6" width="3.4" height="3.12" fill="#b4d4f8"/>
<rect x="399.1" y="242.6" width="3.4" height="3.12" fill="#78a4f8"/>
</g>
<path d="M494.9 44.5h1.2M498.9 44.5h1.2M501.9 44.5h1.2M494.9 47.5h1.2M460.9 50.5h1.2M467.9 50.5h1.2M471.9 50.5h1.2M494.9 50.5h1.2M498.9 50.5h1.2M501.9 50.5h1.2M505.9 50.5h1.2M457.9 53.5h1.2M460.9 53.5h1.2M464.9 53.5h1.2M467.9 53.5h1.2M471.9 53.5h1.2M494.9 53.5h1.2M498.9 53.5h1.2M508.9 53.5h1.2M443.9 56.5h1.2M447.9 56.5h1.2M450.9 56.5h1.2M454.9 56.5h1.2M457.9 56.5h1.2M460.9 56.5h1.2M464.9 56.5h1.2M467.9 56.5h1.2M471.9 56.5h1.2M494.9 56.5h1.2M498.9 56.5h1.2M505.9 56.5h1.2M440.9 59.5h1.2M443.9 59.5h1.2M450.9 59.5h1.2M454.9 59.5h1.2M457.9 59.5h1.2M460.9 59.5h1.2M464.9 59.5h1.2M488.9 59.5h1.2M494.9 59.5h1.2M498.9 59.5h1.2M511.9 59.5h1.2M440.9 62.5h1.2M443.9 62.5h1.2M447.9 62.5h1.2M450.9 62.5h1.2M454.9 62.5h1.2M457.9 62.5h1.2M460.9 62.5h1.2M488.9 62.5h1.2M491.9 62.5h1.2M494.9 62.5h1.2M498.9 62.5h1.2M501.9 62.5h1.2M447.9 66.5h1.2M484.9 66.5h1.2M491.9 66.5h1.2M494.9 66.5h1.2M498.9 66.5h1.2M501.9 66.5h1.2M484.9 69.5h1.2M488.9 69.5h1.2M491.9 69.5h1.2M481.9 72.5h1.2M488.9 72.5h1.2M447.9 75.5h1.2M450.9 75.5h1.2M454.9 75.5h1.2M457.9 75.5h1.2M460.9 75.5h1.2M515.9 75.5h1.2M437.9 78.5h1.2M440.9 78.5h1.2M443.9 78.5h1.2M447.9 78.5h1.2M454.9 78.5h1.2M460.9 78.5h1.2M464.9 78.5h1.2M481.9 78.5h1.2M498.9 78.5h1.2M508.9 78.5h1.2M250.9 81.5h1.2M253.9 81.5h1.2M430.9 81.5h1.2M433.9 81.5h1.2M437.9 81.5h1.2M440.9 81.5h1.2M443.9 81.5h1.2M447.9 81.5h1.2M450.9 81.5h1.2M457.9 81.5h1.2M464.9 81.5h1.2M467.9 81.5h1.2M481.9 81.5h1.2M511.9 81.5h1.2M515.9 81.5h1.2M423.9 84.5h1.2M426.9 84.5h1.2M430.9 84.5h1.2M437.9 84.5h1.2M443.9 84.5h1.2M447.9 84.5h1.2M450.9 84.5h1.2M460.9 84.5h1.2M464.9 84.5h1.2M467.9 84.5h1.2M474.9 84.5h1.2M477.9 84.5h1.2M515.9 84.5h1.2M291.9 87.5h1.2M416.9 87.5h1.2M423.9 87.5h1.2M426.9 87.5h1.2M430.9 87.5h1.2M433.9 87.5h1.2M437.9 87.5h1.2M443.9 87.5h1.2M447.9 87.5h1.2M450.9 87.5h1.2M457.9 87.5h1.2M460.9 87.5h1.2M467.9 87.5h1.2M298.9 91.5h1.2M413.9 91.5h1.2M416.9 91.5h1.2M420.9 91.5h1.2M423.9 91.5h1.2M426.9 91.5h1.2M430.9 91.5h1.2M433.9 91.5h1.2M437.9 91.5h1.2M440.9 91.5h1.2M443.9 91.5h1.2M447.9 91.5h1.2M298.9 94.5h1.2M301.9 94.5h1.2M413.9 94.5h1.2M416.9 94.5h1.2M420.9 94.5h1.2M423.9 94.5h1.2M426.9 94.5h1.2M430.9 94.5h1.2M433.9 94.5h1.2M437.9 94.5h1.2M447.9 94.5h1.2M267.9 97.5h1.2M274.9 97.5h1.2M294.9 97.5h1.2M298.9 97.5h1.2M301.9 97.5h1.2M304.9 97.5h1.2M308.9 97.5h1.2M311.9 97.5h1.2M413.9 97.5h1.2M416.9 97.5h1.2M420.9 97.5h1.2M426.9 97.5h1.2M430.9 97.5h1.2M433.9 97.5h1.2M437.9 97.5h1.2M440.9 97.5h1.2M443.9 97.5h1.2M264.9 100.5h1.2M267.9 100.5h1.2M270.9 100.5h1.2M274.9 100.5h1.2M277.9 100.5h1.2M281.9 100.5h1.2M284.9 100.5h1.2M287.9 100.5h1.2M291.9 100.5h1.2M298.9 100.5h1.2M301.9 100.5h1.2M304.9 100.5h1.2M308.9 100.5h1.2M311.9 100.5h1.2M315.9 100.5h1.2M321.9 100.5h1.2M325.9 100.5h1.2M328.9 100.5h1.2M376.9 100.5h1.2M379.9 100.5h1.2M382.9 100.5h1.2M389.9 100.5h1.2M393.9 100.5h1.2M396.9 100.5h1.2M399.9 100.5h1.2M403.9 100.5h1.2M410.9 100.5h1.2M413.9 100.5h1.2M416.9 100.5h1.2M423.9 100.5h1.2M426.9 100.5h1.2M430.9 100.5h1.2M433.9 100.5h1.2M437.9 100.5h1.2M440.9 100.5h1.2M443.9 100.5h1.2M196.9 103.5h1.2M199.9 103.5h1.2M253.9 103.5h1.2M264.9 103.5h1.2M267.9 103.5h1.2M270.9 103.5h1.2M277.9 103.5h1.2M281.9 103.5h1.2M287.9 103.5h1.2M291.9 103.5h1.2M294.9 103.5h1.2M298.9 103.5h1.2M304.9 103.5h1.2M308.9 103.5h1.2M315.9 103.5h1.2M318.9 103.5h1.2M321.9 103.5h1.2M325.9 103.5h1.2M328.9 103.5h1.2M331.9 103.5h1.2M338.9 103.5h1.2M345.9 103.5h1.2M348.9 103.5h1.2M352.9 103.5h1.2M355.9 103.5h1.2M359.9 103.5h1.2M362.9 103.5h1.2M365.9 103.5h1.2M372.9 103.5h1.2M379.9 103.5h1.2M382.9 103.5h1.2M386.9 103.5h1.2M393.9 103.5h1.2M396.9 103.5h1.2M399.9 103.5h1.2M403.9 103.5h1.2M410.9 103.5h1.2M416.9 103.5h1.2M420.9 103.5h1.2M423.9 103.5h1.2M430.9 103.5h1.2M433.9 103.5h1.2M253.9 106.5h1.2M257.9 106.5h1.2M260.9 106.5h1.2M264.9 106.5h1.2M267.9 106.5h1.2M270.9 106.5h1.2M274.9 106.5h1.2M277.9 106.5h1.2M281.9 106.5h1.2M284.9 106.5h1.2M291.9 106.5h1.2M294.9 106.5h1.2M298.9 106.5h1.2M301.9 106.5h1.2M304.9 106.5h1.2M308.9 106.5h1.2M311.9 106.5h1.2M315.9 106.5h1.2M318.9 106.5h1.2M321.9 106.5h1.2M325.9 106.5h1.2M328.9 106.5h1.2M335.9 106.5h1.2M338.9 106.5h1.2M342.9 106.5h1.2M345.9 106.5h1.2M348.9 106.5h1.2M355.9 106.5h1.2M359.9 106.5h1.2M362.9 106.5h1.2M365.9 106.5h1.2M369.9 106.5h1.2M372.9 106.5h1.2M376.9 106.5h1.2M379.9 106.5h1.2M382.9 106.5h1.2M386.9 106.5h1.2M389.9 106.5h1.2M393.9 106.5h1.2M396.9 106.5h1.2M399.9 106.5h1.2M403.9 106.5h1.2M406.9 106.5h1.2M410.9 106.5h1.2M413.9 106.5h1.2M416.9 106.5h1.2M420.9 106.5h1.2M423.9 106.5h1.2M430.9 106.5h1.2M433.9 106.5h1.2M226.9 109.5h1.2M250.9 109.5h1.2M253.9 109.5h1.2M260.9 109.5h1.2M267.9 109.5h1.2M270.9 109.5h1.2M277.9 109.5h1.2M281.9 109.5h1.2M287.9 109.5h1.2M291.9 109.5h1.2M298.9 109.5h1.2M301.9 109.5h1.2M304.9 109.5h1.2M311.9 109.5h1.2M321.9 109.5h1.2M325.9 109.5h1.2M328.9 109.5h1.2M335.9 109.5h1.2M338.9 109.5h1.2M342.9 109.5h1.2M345.9 109.5h1.2M348.9 109.5h1.2M352.9 109.5h1.2M355.9 109.5h1.2M359.9 109.5h1.2M362.9 109.5h1.2M369.9 109.5h1.2M413.9 109.5h1.2M416.9 109.5h1.2M420.9 109.5h1.2M209.9 112.5h1.2M213.9 112.5h1.2M216.9 112.5h1.2M219.9 112.5h1.2M223.9 112.5h1.2M226.9 112.5h1.2M230.9 112.5h1.2M233.9 112.5h1.2M236.9 112.5h1.2M253.9 112.5h1.2M257.9 112.5h1.2M260.9 112.5h1.2M264.9 112.5h1.2M267.9 112.5h1.2M270.9 112.5h1.2M274.9 112.5h1.2M331.9 112.5h1.2M335.9 112.5h1.2M338.9 112.5h1.2M342.9 112.5h1.2M345.9 112.5h1.2M348.9 112.5h1.2M352.9 112.5h1.2M355.9 112.5h1.2M359.9 112.5h1.2M362.9 112.5h1.2M369.9 112.5h1.2M196.9 116.5h1.2M199.9 116.5h1.2M203.9 116.5h1.2M206.9 116.5h1.2M209.9 116.5h1.2M213.9 116.5h1.2M219.9 116.5h1.2M223.9 116.5h1.2M226.9 116.5h1.2M230.9 116.5h1.2M233.9 116.5h1.2M236.9 116.5h1.2M240.9 116.5h1.2M243.9 116.5h1.2M247.9 116.5h1.2M335.9 116.5h1.2M338.9 116.5h1.2M342.9 116.5h1.2M345.9 116.5h1.2M348.9 116.5h1.2M352.9 116.5h1.2M355.9 116.5h1.2M359.9 116.5h1.2M362.9 116.5h1.2M365.9 116.5h1.2M369.9 116.5h1.2M372.9 116.5h1.2M192.9 119.5h1.2M196.9 119.5h1.2M199.9 119.5h1.2M203.9 119.5h1.2M206.9 119.5h1.2M209.9 119.5h1.2M213.9 119.5h1.2M216.9 119.5h1.2M219.9 119.5h1.2M223.9 119.5h1.2M226.9 119.5h1.2M230.9 119.5h1.2M355.9 119.5h1.2M362.9 119.5h1.2M365.9 119.5h1.2M192.9 122.5h1.2M196.9 122.5h1.2M209.9 122.5h1.2M213.9 122.5h1.2M216.9 122.5h1.2M219.9 122.5h1.2M267.9 122.5h1.2M270.9 122.5h1.2M274.9 122.5h1.2M277.9 122.5h1.2M281.9 122.5h1.2M359.9 122.5h1.2M362.9 122.5h1.2M338.9 125.5h1.2M362.9 125.5h1.2M206.9 128.5h1.2M277.9 128.5h1.2M338.9 128.5h1.2M359.9 128.5h1.2M372.9 131.5h1.2M389.9 141.5h1.2M393.9 141.5h1.2M396.9 141.5h1.2M399.9 141.5h1.2M403.9 141.5h1.2M406.9 141.5h1.2M410.9 141.5h1.2M376.9 144.5h1.2M379.9 144.5h1.2M389.9 144.5h1.2M393.9 144.5h1.2M396.9 144.5h1.2M399.9 144.5h1.2M403.9 144.5h1.2M406.9 144.5h1.2M410.9 144.5h1.2M413.9 144.5h1.2M325.9 147.5h1.2M328.9 147.5h1.2M345.9 147.5h1.2M372.9 147.5h1.2M376.9 147.5h1.2M379.9 147.5h1.2M382.9 147.5h1.2M386.9 147.5h1.2M393.9 147.5h1.2M396.9 147.5h1.2M399.9 147.5h1.2M403.9 147.5h1.2M406.9 147.5h1.2M410.9 147.5h1.2M413.9 147.5h1.2M457.9 147.5h1.2M345.9 150.5h1.2M352.9 150.5h1.2M372.9 150.5h1.2M376.9 150.5h1.2M379.9 150.5h1.2M382.9 150.5h1.2M386.9 150.5h1.2M389.9 150.5h1.2M393.9 150.5h1.2M396.9 150.5h1.2M403.9 150.5h1.2M406.9 150.5h1.2M410.9 150.5h1.2M413.9 150.5h1.2M450.9 150.5h1.2M454.9 150.5h1.2M457.9 150.5h1.2M464.9 150.5h1.2M294.9 153.5h1.2M298.9 153.5h1.2M301.9 153.5h1.2M304.9 153.5h1.2M308.9 153.5h1.2M311.9 153.5h1.2M315.9 153.5h1.2M318.9 153.5h1.2M338.9 153.5h1.2M342.9 153.5h1.2M345.9 153.5h1.2M348.9 153.5h1.2M352.9 153.5h1.2M372.9 153.5h1.2M389.9 153.5h1.2M393.9 153.5h1.2M399.9 153.5h1.2M403.9 153.5h1.2M406.9 153.5h1.2M410.9 153.5h1.2M413.9 153.5h1.2M430.9 153.5h1.2M433.9 153.5h1.2M437.9 153.5h1.2M440.9 153.5h1.2M443.9 153.5h1.2M450.9 153.5h1.2M457.9 153.5h1.2M460.9 153.5h1.2M464.9 153.5h1.2M294.9 156.5h1.2M298.9 156.5h1.2M301.9 156.5h1.2M304.9 156.5h1.2M308.9 156.5h1.2M311.9 156.5h1.2M315.9 156.5h1.2M318.9 156.5h1.2M321.9 156.5h1.2M325.9 156.5h1.2M335.9 156.5h1.2M338.9 156.5h1.2M342.9 156.5h1.2M345.9 156.5h1.2M393.9 156.5h1.2M396.9 156.5h1.2M399.9 156.5h1.2M406.9 156.5h1.2M410.9 156.5h1.2M413.9 156.5h1.2M433.9 156.5h1.2M440.9 156.5h1.2M443.9 156.5h1.2M447.9 156.5h1.2M454.9 156.5h1.2M457.9 156.5h1.2M464.9 156.5h1.2M277.9 159.5h1.2M281.9 159.5h1.2M291.9 159.5h1.2M294.9 159.5h1.2M298.9 159.5h1.2M301.9 159.5h1.2M304.9 159.5h1.2M308.9 159.5h1.2M311.9 159.5h1.2M315.9 159.5h1.2M321.9 159.5h1.2M325.9 159.5h1.2M328.9 159.5h1.2M338.9 159.5h1.2M393.9 159.5h1.2M396.9 159.5h1.2M399.9 159.5h1.2M403.9 159.5h1.2M406.9 159.5h1.2M410.9 159.5h1.2M413.9 159.5h1.2M437.9 159.5h1.2M440.9 159.5h1.2M443.9 159.5h1.2M450.9 159.5h1.2M454.9 159.5h1.2M457.9 159.5h1.2M460.9 159.5h1.2M284.9 162.5h1.2M287.9 162.5h1.2M291.9 162.5h1.2M294.9 162.5h1.2M298.9 162.5h1.2M301.9 162.5h1.2M304.9 162.5h1.2M311.9 162.5h1.2M315.9 162.5h1.2M321.9 162.5h1.2M325.9 162.5h1.2M328.9 162.5h1.2M331.9 162.5h1.2M399.9 162.5h1.2M403.9 162.5h1.2M437.9 162.5h1.2M460.9 162.5h1.2M464.9 162.5h1.2M467.9 162.5h1.2M471.9 162.5h1.2M284.9 166.5h1.2M287.9 166.5h1.2M291.9 166.5h1.2M294.9 166.5h1.2M298.9 166.5h1.2M301.9 166.5h1.2M304.9 166.5h1.2M328.9 166.5h1.2M413.9 166.5h1.2M464.9 166.5h1.2M467.9 166.5h1.2M471.9 166.5h1.2M284.9 169.5h1.2M287.9 169.5h1.2M291.9 169.5h1.2M294.9 169.5h1.2M304.9 169.5h1.2M416.9 169.5h1.2M420.9 169.5h1.2M423.9 169.5h1.2M426.9 169.5h1.2M454.9 169.5h1.2M467.9 169.5h1.2M471.9 169.5h1.2M284.9 172.5h1.2M287.9 172.5h1.2M291.9 172.5h1.2M294.9 172.5h1.2M301.9 172.5h1.2M304.9 172.5h1.2M308.9 172.5h1.2M311.9 172.5h1.2M362.9 172.5h1.2M365.9 172.5h1.2M410.9 172.5h1.2M413.9 172.5h1.2M416.9 172.5h1.2M420.9 172.5h1.2M423.9 172.5h1.2M426.9 172.5h1.2M471.9 172.5h1.2M281.9 175.5h1.2M287.9 175.5h1.2M291.9 175.5h1.2M294.9 175.5h1.2M298.9 175.5h1.2M301.9 175.5h1.2M304.9 175.5h1.2M308.9 175.5h1.2M311.9 175.5h1.2M315.9 175.5h1.2M362.9 175.5h1.2M365.9 175.5h1.2M410.9 175.5h1.2M413.9 175.5h1.2M416.9 175.5h1.2M420.9 175.5h1.2M423.9 175.5h1.2M426.9 175.5h1.2M430.9 175.5h1.2M281.9 178.5h1.2M284.9 178.5h1.2M287.9 178.5h1.2M291.9 178.5h1.2M294.9 178.5h1.2M301.9 178.5h1.2M304.9 178.5h1.2M308.9 178.5h1.2M311.9 178.5h1.2M315.9 178.5h1.2M365.9 178.5h1.2M410.9 178.5h1.2M413.9 178.5h1.2M416.9 178.5h1.2M420.9 178.5h1.2M284.9 181.5h1.2M287.9 181.5h1.2M291.9 181.5h1.2M294.9 181.5h1.2M298.9 181.5h1.2M301.9 181.5h1.2M304.9 181.5h1.2M308.9 181.5h1.2M315.9 181.5h1.2M413.9 181.5h1.2M416.9 181.5h1.2M291.9 184.5h1.2M294.9 184.5h1.2M298.9 184.5h1.2M301.9 184.5h1.2M304.9 184.5h1.2M311.9 184.5h1.2M243.9 187.5h1.2M247.9 187.5h1.2M264.9 187.5h1.2M267.9 187.5h1.2M291.9 187.5h1.2M294.9 187.5h1.2M304.9 187.5h1.2M348.9 187.5h1.2M274.9 191.5h1.2M287.9 191.5h1.2M291.9 191.5h1.2M416.9 209.5h1.2M420.9 209.5h1.2M423.9 209.5h1.2M393.9 212.5h1.2M416.9 212.5h1.2M420.9 212.5h1.2M423.9 212.5h1.2M348.9 216.5h1.2M352.9 216.5h1.2M393.9 216.5h1.2M416.9 216.5h1.2M348.9 219.5h1.2M352.9 219.5h1.2M362.9 219.5h1.2M369.9 219.5h1.2M393.9 219.5h1.2M396.9 219.5h1.2M406.9 219.5h1.2M410.9 219.5h1.2M426.9 219.5h1.2M396.9 222.5h1.2M406.9 222.5h1.2M410.9 222.5h1.2M393.9 225.5h1.2M399.9 225.5h1.2M403.9 225.5h1.2M406.9 225.5h1.2M410.9 225.5h1.2M471.9 34.5h1.2M474.9 34.5h1.2M477.9 34.5h1.2M481.9 34.5h1.2M484.9 34.5h1.2M488.9 34.5h1.2M491.9 34.5h1.2M498.9 34.5h1.2M501.9 34.5h1.2M505.9 34.5h1.2M471.9 37.5h1.2M477.9 37.5h1.2M481.9 37.5h1.2M484.9 37.5h1.2M488.9 37.5h1.2M491.9 37.5h1.2M494.9 37.5h1.2M498.9 37.5h1.2M501.9 37.5h1.2M505.9 37.5h1.2M471.9 41.5h1.2M474.9 41.5h1.2M477.9 41.5h1.2M481.9 41.5h1.2M488.9 41.5h1.2M491.9 41.5h1.2M494.9 41.5h1.2M498.9 41.5h1.2M501.9 41.5h1.2M505.9 41.5h1.2M467.9 44.5h1.2M471.9 44.5h1.2M474.9 44.5h1.2M484.9 44.5h1.2M488.9 44.5h1.2M491.9 44.5h1.2M505.9 44.5h1.2M508.9 44.5h1.2M467.9 47.5h1.2M471.9 47.5h1.2M481.9 47.5h1.2M484.9 47.5h1.2M488.9 47.5h1.2M491.9 47.5h1.2M498.9 47.5h1.2M501.9 47.5h1.2M505.9 47.5h1.2M508.9 47.5h1.2M474.9 50.5h1.2M481.9 50.5h1.2M484.9 50.5h1.2M488.9 50.5h1.2M491.9 50.5h1.2M474.9 53.5h1.2M477.9 53.5h1.2M481.9 53.5h1.2M484.9 53.5h1.2M488.9 53.5h1.2M491.9 53.5h1.2M505.9 53.5h1.2M474.9 56.5h1.2M477.9 56.5h1.2M481.9 56.5h1.2M488.9 56.5h1.2M491.9 56.5h1.2M501.9 56.5h1.2M471.9 59.5h1.2M474.9 59.5h1.2M477.9 59.5h1.2M481.9 59.5h1.2M484.9 59.5h1.2M491.9 59.5h1.2M501.9 59.5h1.2M223.9 81.5h1.2M226.9 81.5h1.2M240.9 87.5h1.2M233.9 91.5h1.2M236.9 91.5h1.2M216.9 94.5h1.2M233.9 94.5h1.2M213.9 103.5h1.2M216.9 103.5h1.2M454.9 103.5h1.2M460.9 103.5h1.2M213.9 106.5h1.2M216.9 106.5h1.2M172.9 116.5h1.2M186.9 116.5h1.2M172.9 119.5h1.2M179.9 119.5h1.2M186.9 119.5h1.2M182.9 125.5h1.2M186.9 125.5h1.2M175.9 128.5h1.2M179.9 128.5h1.2M182.9 128.5h1.2M186.9 128.5h1.2M399.9 128.5h1.2M169.9 131.5h1.2M186.9 131.5h1.2M196.9 141.5h1.2M203.9 141.5h1.2M196.9 144.5h1.2M199.9 144.5h1.2M206.9 144.5h1.2M189.9 147.5h1.2M196.9 147.5h1.2M223.9 159.5h1.2M230.9 159.5h1.2M243.9 159.5h1.2M247.9 159.5h1.2M219.9 162.5h1.2M223.9 162.5h1.2M226.9 162.5h1.2M230.9 162.5h1.2M240.9 162.5h1.2M247.9 162.5h1.2M223.9 166.5h1.2M233.9 166.5h1.2M243.9 166.5h1.2M247.9 166.5h1.2M226.9 169.5h1.2M247.9 169.5h1.2M223.9 172.5h1.2M233.9 172.5h1.2M243.9 172.5h1.2M247.9 172.5h1.2M219.9 175.5h1.2M226.9 175.5h1.2M233.9 175.5h1.2M240.9 175.5h1.2M243.9 175.5h1.2M267.9 175.5h1.2M219.9 178.5h1.2M223.9 178.5h1.2M233.9 178.5h1.2M240.9 178.5h1.2M243.9 178.5h1.2M247.9 178.5h1.2M267.9 178.5h1.2M321.9 178.5h1.2M219.9 181.5h1.2M223.9 181.5h1.2M226.9 181.5h1.2M233.9 181.5h1.2M243.9 181.5h1.2M247.9 181.5h1.2M277.9 181.5h1.2M325.9 181.5h1.2M226.9 184.5h1.2M230.9 184.5h1.2M233.9 184.5h1.2M236.9 184.5h1.2M243.9 184.5h1.2M270.9 184.5h1.2" stroke="#111" stroke-width="1.2" stroke-opacity="0.85" fill="none"/>
<polyline points="483.4,172.5 486.0,172.5 486.6,174.4 484.0,176.4 481.4,178.4 480.1,181.0 478.8,184.3 476.8,187.6 474.8,190.9 472.2,193.5 469.6,196.8 466.3,199.4 465.0,202.7 463.0,206.0 459.7,208.6 457.4,208.8 454.1,211.4 450.2,214.1 446.2,217.3 442.3,220.0 438.3,221.9 434.4,222.9 430.4,224.6 426.5,226.5 423.9,225.2 419.9,227.2 416.0,228.9 412.1,229.4 408.1,229.8 404.2,230.5 401.5,231.8" fill="none" stroke="#000" stroke-width="1.9" stroke-linejoin="round"/>
<polyline points="483.4,172.5 486.0,172.5 486.6,174.4 484.0,176.4 481.4,178.4 480.1,181.0 478.8,184.3 476.8,187.6 474.8,190.9 472.2,193.5 469.6,196.8 466.3,199.4 465.0,202.7 463.0,206.0 459.7,208.6 457.4,208.8 454.1,211.4 450.2,214.1 446.2,217.3 442.3,220.0 438.3,221.9 434.4,222.9 430.4,224.6 426.5,226.5 423.9,225.2 419.9,227.2 416.0,228.9 412.1,229.4 408.1,229.8 404.2,230.5 401.5,231.8" fill="none" stroke="#000" stroke-width="3.2" stroke-dasharray="1.2 2.1 2 1.6 0.9 2.8" stroke-linejoin="round"/>
<polyline points="474.6,121.7 473.6,124.2 472.9,127.2" fill="none" stroke="#000" stroke-width="1.6" stroke-dasharray="1.5 0.8"/>
<polyline points="490.2,204.0 492.6,202.7" fill="none" stroke="#000" stroke-width="1.2"/>
<polyline points="486.0,211.2 484.0,218.5" fill="none" stroke="#000" stroke-width="1.2"/>
<polyline points="479.4,229.7 474.8,235.2" fill="none" stroke="#000" stroke-width="1.2"/>
<polyline points="497.2,202.7 498.5,203.1" fill="none" stroke="#000" stroke-width="1.2"/>
<polyline points="467.0,246.6 464.0,253.0" fill="none" stroke="#000" stroke-width="1.2"/>
<polyline points="460.4,265.0 460.4,269.0" fill="none" stroke="#000" stroke-width="1.2"/>
<polyline points="394.3,264.0 396.3,267.3 397.6,270.9" fill="none" stroke="#000" stroke-width="0.8"/>
<path d="M463.6 217.8h0.1M445.3 235.8h0.1M445.2 236.0h0.1M451.7 270.6h0.1M408.8 258.7h0.1M410.7 262.0h0.1M412.7 263.3h0.1M414.7 260.1h0.1M416.6 261.4h0.1M416.0 264.9h0.1M409.4 264.0h0.1M407.4 266.6h0.1M393.0 234.2h0.1M407.4 241.0h0.1" stroke="#000" stroke-width="1.5" stroke-linecap="round" fill="none"/>
<path d="M463.6 217.8h0.1M445.3 235.8h0.1M445.2 236.0h0.1" stroke="#000" stroke-width="2.3" stroke-linecap="round" fill="none"/>
<ellipse cx="428.7" cy="266.2" rx="4.3" ry="2" transform="rotate(-28 428.7 266.2)" fill="none" stroke="#000" stroke-width="0.9"/>
<polygon points="151.2,118.9 153.2,115.9 155.8,113.9 159.1,112.6 162.4,111.9 165.7,110.6 169.0,111.3 172.2,110.0 174.9,108.4 178.2,107.1 182.1,106.0 186.1,104.7 190.0,103.4 193.3,101.8 195.9,99.8 196.6,97.2 199.2,95.8 200.5,93.2 199.2,90.6 197.2,88.0 195.3,85.3 195.3,83.4 199.2,82.7 203.8,81.8 208.4,80.7 211.0,81.4 210.8,78.8 212.3,75.5 214.3,72.2 216.3,69.6 220.2,69.6 225.5,70.5 230.7,70.5 233.4,69.6 232.7,65.6 233.4,62.3 236.7,61.0 240.6,59.7 241.9,57.1 247.8,57.1 249.1,59.7 252.4,61.7 255.7,63.6 259.6,64.3 263.6,65.6 266.2,68.2 268.8,70.9 270.2,74.2 268.8,77.5 267.5,79.4 270.2,81.4 274.8,82.3 280.0,82.7 281.8,83.7 288.4,84.3 293.0,86.0 297.6,87.6 300.2,89.6 302.2,92.8 304.8,95.7 307.4,97.1 313.4,97.5 319.9,98.1 326.5,98.4 333.1,97.8 338.3,98.1 342.3,98.8 346.2,100.7 350.2,102.0 354.1,103.1 360.0,103.4 363.1,104.0 367.1,102.7 372.3,100.7 377.6,99.4 384.2,99.2 390.7,98.8 396.0,98.1 399.9,96.8 403.9,94.8 407.8,92.2 411.8,90.9 412.4,88.9 409.1,86.9 409.8,84.3 413.1,83.0 417.0,83.7 421.0,84.3 424.9,83.7 428.8,81.7 432.8,80.8 436.7,80.4 440.8,77.8 444.1,75.2 448.6,73.9 453.2,73.2 457.9,72.6 462.4,72.6 465.7,71.3 464.4,68.7 461.8,66.7 458.5,64.7 454.6,64.3 450.6,65.1 447.3,66.4 443.4,66.0 439.4,65.4 436.8,64.0 438.1,61.4 440.1,58.8 442.1,55.5 444.7,53.5 448.6,54.2 452.6,54.2 456.5,52.9 460.5,51.6 463.1,48.9 465.7,45.6 467.7,42.4 470.3,40.4 471.6,37.8 470.3,35.8 467.1,35.1 469.0,33.2 472.3,31.5 477.6,30.5 482.8,29.9 488.7,29.2 493.3,30.1 498.6,31.2 499.6,31.5 504.2,32.8 508.1,35.1 510.8,38.4 512.7,41.7 514.7,45.0 516.7,48.3 518.0,51.6 520.6,53.8 525.2,54.6 529.8,55.5 533.8,56.8 537.0,58.8 539.7,60.8 541.0,64.0 543.6,66.0 547.6,66.4 552.8,65.4 558.1,63.8 563.3,62.5 569.9,61.4 567.3,63.4 566.6,66.7 564.0,70.0 562.0,73.9 559.4,77.8 556.1,81.8 552.8,83.1 548.2,81.8 544.9,83.1 541.6,85.1 542.3,89.0 543.0,93.6 541.0,96.9 538.4,98.9 534.4,97.6 532.5,99.5 527.9,100.8 525.5,101.4 521.5,102.7 522.2,105.3 517.6,104.7 513.6,103.4 509.7,107.3 504.4,109.9 499.2,112.6 495.3,115.2 490.0,116.2 492.6,116.7 488.6,118.4 484.7,119.3 479.4,120.6 474.8,121.7 476.1,118.7 478.8,116.0 481.4,113.4 482.7,110.8 480.7,108.8 477.4,108.1 474.2,109.5 470.9,111.4 468.2,113.4 465.0,115.4 461.7,117.3 458.4,118.7 453.8,119.3 451.2,120.6 450.5,123.2 451.8,125.9 455.1,127.2 458.4,127.8 460.4,130.5 463.0,132.4 466.3,131.8 469.6,129.8 472.2,128.5 475.5,129.4 479.4,130.2 484.0,130.5 485.3,132.4 483.4,134.4 479.4,134.4 475.5,135.7 472.2,137.1 468.9,139.0 465.6,141.7 463.0,144.3 461.7,146.9 463.6,148.9 466.9,151.5 469.6,154.8 471.5,158.1 473.5,161.4 475.5,164.0 478.8,166.6 479.4,167.9 478.8,171.2 475.5,173.1 472.2,175.1 471.5,176.4 475.5,175.5 479.4,174.2 483.4,172.5 486.0,172.5 486.6,174.4 484.0,176.4 481.4,178.4 480.1,181.0 478.8,184.3 476.8,187.6 474.8,190.9 472.2,193.5 469.6,196.8 466.3,199.4 465.0,202.7 463.0,206.0 459.7,208.6 457.4,208.8 454.1,211.4 450.2,214.1 446.2,217.3 442.3,220.0 438.3,221.9 434.4,222.9 430.4,224.6 426.5,226.5 423.9,225.2 419.9,227.2 416.0,228.9 412.1,229.4 408.1,229.8 404.2,230.5 401.5,231.8 402.2,234.4 402.2,237.7 400.2,239.0 398.2,237.1 396.9,234.4 396.9,231.8 395.0,230.5 391.7,230.2 388.4,229.4 384.4,229.8 380.5,229.2 377.2,226.5 375.7,222.8 373.1,221.5 370.4,220.9 367.8,219.6 364.5,220.2 361.2,221.5 357.3,222.8 353.4,223.5 349.4,223.5 345.5,224.2 342.2,225.5 342.9,228.8 343.5,232.7 339.6,232.1 337.6,229.4 333.6,230.1 331.7,228.1 328.4,227.4 325.1,226.8 325.8,224.2 326.4,220.9 323.8,219.6 322.5,215.6 319.9,214.3 315.9,214.3 314.6,211.7 315.3,208.4 317.9,205.1 321.2,202.5 323.1,199.4 322.8,196.1 321.1,192.8 318.5,191.5 317.2,188.2 314.5,186.9 312.6,189.6 309.3,190.9 306.0,188.9 302.7,188.2 299.4,189.6 296.1,191.5 292.9,193.5 289.6,195.5 286.3,196.8 282.3,197.1 278.4,196.8 277.1,194.8 274.4,191.5 271.8,189.6 266.7,188.9 262.8,188.6 259.5,189.5 257.5,192.2 255.9,194.1 254.9,190.2 252.3,189.5 248.3,190.2 244.4,189.9 240.4,188.9 236.5,189.9 232.6,188.2 228.6,186.9 225.3,185.2 222.1,183.0 218.8,181.0 215.5,179.0 211.5,177.1 208.2,175.1 205.6,174.4 203.0,176.8 199.1,174.4 195.1,173.1 191.8,171.1 188.5,169.4 185.9,166.5 185.4,162.5 188.7,162.5 190.7,160.6 189.3,157.3 188.0,154.7 187.4,151.4 185.4,149.4 182.8,147.4 181.4,144.1 178.8,142.8 174.9,142.2 170.9,140.8 168.3,138.9 166.3,136.2 163.7,134.3 160.4,133.6 159.1,132.3 161.1,129.7 160.4,126.4 159.1,123.8 155.8,122.5 152.5,121.8" fill="none" stroke="#000" stroke-width="1.15" stroke-linejoin="round"/>
<polygon points="389.7,245.6 391.7,242.3 395.6,240.3 400.9,239.7 404.8,240.3 406.1,243.0 404.8,246.2 402.2,248.9 398.2,251.2 394.3,251.2 391.0,249.5" fill="none" stroke="#000" stroke-width="1.2"/>
<polygon points="470.2,212.6 474.2,208.6 478.8,207.0 480.1,208.9 479.4,213.9 478.1,217.8 476.1,222.4 474.4,225.7 472.9,229.0 471.5,225.7 469.6,222.4 467.9,219.1 468.2,215.8" fill="#999" stroke="#000" stroke-width="1.1"/>
<g id="inset">
<rect x="516.4" y="211.2" width="54" height="57.7" fill="#fff" stroke="#000" stroke-width="1"/>
<clipPath id="iclip"><rect x="516.4" y="211.2" width="54" height="57.7"/></clipPath><g clip-path="url(#iclip)" fill="none" stroke-linejoin="round">
<polyline points="516.4,213.3 520.5,211.8 522.6,214.9 526.8,215.4 531.5,216.0 534.7,214.9 538.4,213.9 542.6,212.8 546.9,211.8 550.0,211.0" stroke="#000" stroke-width="1.1"/>
<polyline points="531.5,216.0 532.6,218.1 534.0,219.5 534.4,217.6 534.7,214.9" stroke="#000" stroke-width="1.1"/>
<ellipse cx="530.8" cy="221.8" rx="3.4" ry="2.3" transform="rotate(-20 530.8 221.8)" stroke="#000" stroke-width="1"/>
<polyline points="520.5,215.4 518.9,218.6 518.3,221.8 520.5,225.5 523.6,228.1 526.8,230.8 528.9,234.5 529.4,238.7 527.8,242.4 524.7,245.5 521.5,247.7 518.3,249.8 516.4,250.8" stroke="#333" stroke-width="0.5"/>
<polyline points="516.4,230.8 518.3,232.3 520.5,235.0 523.1,237.1 524.1,239.7 522.6,241.8 519.4,243.4 516.4,245.0" stroke="#333" stroke-width="0.5"/>
<polyline points="522.6,214.9 521.5,217.0 519.4,217.6 517.8,219.7 516.4,220.2" stroke="#333" stroke-width="0.5"/>
<polyline points="563.7,211.8 561.6,215.4 560.0,219.7 558.5,223.9 559.0,228.1 560.6,232.3 562.7,235.5 564.8,237.6 568.0,238.7 570.4,239.7" stroke="#333" stroke-width="0.5"/>
<polyline points="564.8,219.7 566.9,222.8 568.5,227.1 567.4,231.3 564.8,233.4 562.7,231.3 561.6,228.1 562.7,223.9 564.8,219.7" stroke="#333" stroke-width="0.5"/>
<polyline points="561.6,240.8 557.4,246.1 553.2,251.3 549.0,256.6 543.7,261.9 538.4,266.1 535.2,269.0" stroke="#333" stroke-width="0.5"/>
<polyline points="552.1,254.5 556.4,257.7 559.5,259.8 563.7,257.7 566.9,254.5 570.4,252.4" stroke="#333" stroke-width="0.5"/>
<polyline points="539.5,265.6 543.7,264.0 547.9,262.4 549.5,263.0 547.9,266.1 546.9,269.0" stroke="#333" stroke-width="0.5"/>
<polyline points="553.2,261.9 554.2,264.6 554.8,269.0" stroke="#333" stroke-width="0.5"/>
<polyline points="564.8,238.7 566.9,241.8 569.5,244.0 570.4,247.1" stroke="#333" stroke-width="0.5"/>
<polyline points="566.9,234.5 569.0,236.6 570.4,236.0" stroke="#333" stroke-width="0.5"/>
<polyline points="566.4,235.5 568.5,238.7" stroke="#333" stroke-width="0.5"/>
<polyline points="565.9,239.7 569.0,240.8" stroke="#333" stroke-width="0.5"/>
<path d="M529.4 230.8L531.0 232.9M531.5 240.8L532.6 242.9M525.7 255.1L526.3 257.7M525.2 263.0L526.3 264.6M537.9 257.7L538.9 259.8M518.3 266.1L520.5 265.1M527.3 266.1L528.4 267.7M535.8 228.7L537.9 229.7M537.3 228.1L539.7 230.0M542.6 231.8L546.3 230.4M542.8 231.1L545.8 232.1M543.1 243.4L545.8 245.0M543.7 246.1L546.9 244.5M547.9 246.1L550.5 247.7M548.4 248.7L551.6 246.6M541.6 250.3L545.8 251.9M542.1 252.4L545.3 249.8M551.1 244.0L553.7 245.5M549.0 252.4L550.0 254.0M530.5 252.4L532.6 253.5M536.3 250.8L537.9 249.2M554.2 231.8L554.8 233.4M558.5 230.8L559.0 232.9M560.6 222.8L561.6 221.8M557.4 242.9L559.0 241.8M561.1 241.8L563.7 244.5M556.4 261.9L558.5 260.9M544.7 260.9L546.9 261.9M562.7 255.1L564.8 257.7M519.9 247.1L522.0 246.3" stroke="#111" stroke-width="0.7"/>
<circle cx="551.6" cy="217.6" r="0.6" fill="#000" stroke="none"/>
</g></g>
<rect x="144.5" y="20.5" width="428.1" height="250.8" fill="none" stroke="#222" stroke-width="1"/>
</g>
<text x="100.5" y="10.2" font-size="14" font-weight="bold">a</text>
<text x="0" y="339" font-size="14" font-weight="bold">b</text>
<text x="362" y="339" font-size="14" font-weight="bold">c</text>
<path d="M161.6 271.3v-3" stroke="#000" stroke-width="0.8"/>
<text x="161.6" y="286.2" font-size="10.5" text-anchor="middle">75°E</text>
<path d="M263.4 271.3v-3" stroke="#000" stroke-width="0.8"/>
<text x="263.4" y="286.2" font-size="10.5" text-anchor="middle">90°E</text>
<path d="M365.2 271.3v-3" stroke="#000" stroke-width="0.8"/>
<text x="365.2" y="286.2" font-size="10.5" text-anchor="middle">105°E</text>
<path d="M467.0 271.3v-3" stroke="#000" stroke-width="0.8"/>
<text x="467.0" y="286.2" font-size="10.5" text-anchor="middle">120°E</text>
<path d="M568.8 271.3v-3" stroke="#000" stroke-width="0.8"/>
<text x="568.8" y="286.2" font-size="10.5" text-anchor="middle">135°E</text>
<path d="M144.5 52.0h3" stroke="#000" stroke-width="0.8"/>
<text x="137.4" y="55.7" font-size="10.7" text-anchor="end">50°N</text>
<path d="M144.5 114.5h3" stroke="#000" stroke-width="0.8"/>
<text x="137.4" y="118.2" font-size="10.7" text-anchor="end">40°N</text>
<path d="M144.5 177.0h3" stroke="#000" stroke-width="0.8"/>
<text x="137.4" y="180.7" font-size="10.7" text-anchor="end">30°N</text>
<path d="M144.5 239.5h3" stroke="#000" stroke-width="0.8"/>
<text x="137.4" y="243.2" font-size="10.7" text-anchor="end">20°N</text>
<text x="358" y="301.2" font-size="10.5" text-anchor="middle">Trend in the frequency of soil-based CDHEs (days decade<tspan dy="-4.3" font-size="5.8">-1</tspan><tspan dy="4.3">)</tspan></text>
<rect x="145.60" y="303.6" width="16.35" height="8.4" fill="#2b0a8c" stroke="#222" stroke-width="0.5"/>
<rect x="161.95" y="303.6" width="16.35" height="8.4" fill="#2400a6" stroke="#222" stroke-width="0.5"/>
<rect x="178.31" y="303.6" width="16.35" height="8.4" fill="#1c00ba" stroke="#222" stroke-width="0.5"/>
<rect x="194.66" y="303.6" width="16.35" height="8.4" fill="#1000d8" stroke="#222" stroke-width="0.5"/>
<rect x="211.02" y="303.6" width="16.35" height="8.4" fill="#0000ff" stroke="#222" stroke-width="0.5"/>
<rect x="227.37" y="303.6" width="16.35" height="8.4" fill="#2846ff" stroke="#222" stroke-width="0.5"/>
<rect x="243.72" y="303.6" width="16.35" height="8.4" fill="#4464ff" stroke="#222" stroke-width="0.5"/>
<rect x="260.08" y="303.6" width="16.35" height="8.4" fill="#5e8af8" stroke="#222" stroke-width="0.5"/>
<rect x="276.43" y="303.6" width="16.35" height="8.4" fill="#78a4f8" stroke="#222" stroke-width="0.5"/>
<rect x="292.78" y="303.6" width="16.35" height="8.4" fill="#96bcf8" stroke="#222" stroke-width="0.5"/>
<rect x="309.14" y="303.6" width="16.35" height="8.4" fill="#b4d4f8" stroke="#222" stroke-width="0.5"/>
<rect x="325.49" y="303.6" width="16.35" height="8.4" fill="#d8ecfc" stroke="#222" stroke-width="0.5"/>
<rect x="341.85" y="303.6" width="16.35" height="8.4" fill="#fefcf8" stroke="#222" stroke-width="0.5"/>
<rect x="358.20" y="303.6" width="16.35" height="8.4" fill="#fffdf8" stroke="#222" stroke-width="0.5"/>
<rect x="374.55" y="303.6" width="16.35" height="8.4" fill="#fde8d4" stroke="#222" stroke-width="0.5"/>
<rect x="390.91" y="303.6" width="16.35" height="8.4" fill="#fdd2b0" stroke="#222" stroke-width="0.5"/>
<rect x="407.26" y="303.6" width="16.35" height="8.4" fill="#fcb48c" stroke="#222" stroke-width="0.5"/>
<rect x="423.62" y="303.6" width="16.35" height="8.4" fill="#fc9a70" stroke="#222" stroke-width="0.5"/>
<rect x="439.97" y="303.6" width="16.35" height="8.4" fill="#fa7e58" stroke="#222" stroke-width="0.5"/>
<rect x="456.32" y="303.6" width="16.35" height="8.4" fill="#f85c40" stroke="#222" stroke-width="0.5"/>
<rect x="472.68" y="303.6" width="16.35" height="8.4" fill="#f43020" stroke="#222" stroke-width="0.5"/>
<rect x="489.03" y="303.6" width="16.35" height="8.4" fill="#fa0000" stroke="#222" stroke-width="0.5"/>
<rect x="505.38" y="303.6" width="16.35" height="8.4" fill="#d80010" stroke="#222" stroke-width="0.5"/>
<rect x="521.74" y="303.6" width="16.35" height="8.4" fill="#b80020" stroke="#222" stroke-width="0.5"/>
<rect x="538.09" y="303.6" width="16.35" height="8.4" fill="#a00028" stroke="#222" stroke-width="0.5"/>
<rect x="554.45" y="303.6" width="16.35" height="8.4" fill="#7e0028" stroke="#222" stroke-width="0.5"/>
<text transform="translate(162.0,323) rotate(-24)" font-size="8.3" text-anchor="middle">-4</text>
<text transform="translate(178.3,323) rotate(-24)" font-size="8.3" text-anchor="middle">-3.5</text>
<text transform="translate(194.7,323) rotate(-24)" font-size="8.3" text-anchor="middle">-3</text>
<text transform="translate(211.0,323) rotate(-24)" font-size="8.3" text-anchor="middle">-2.5</text>
<text transform="translate(227.4,323) rotate(-24)" font-size="8.3" text-anchor="middle">-2</text>
<text transform="translate(243.7,323) rotate(-24)" font-size="8.3" text-anchor="middle">-1.5</text>
<text transform="translate(260.1,323) rotate(-24)" font-size="8.3" text-anchor="middle">-1</text>
<text transform="translate(276.4,323) rotate(-24)" font-size="8.3" text-anchor="middle">-0.8</text>
<text transform="translate(292.8,323) rotate(-24)" font-size="8.3" text-anchor="middle">-0.6</text>
<text transform="translate(309.1,323) rotate(-24)" font-size="8.3" text-anchor="middle">-0.4</text>
<text transform="translate(325.5,323) rotate(-24)" font-size="8.3" text-anchor="middle">-0.2</text>
<text transform="translate(341.8,323) rotate(-24)" font-size="8.3" text-anchor="middle">-0.1</text>
<text transform="translate(358.2,323) rotate(-24)" font-size="8.3" text-anchor="middle">0</text>
<text transform="translate(374.6,323) rotate(-24)" font-size="8.3" text-anchor="middle">0.1</text>
<text transform="translate(390.9,323) rotate(-24)" font-size="8.3" text-anchor="middle">0.2</text>
<text transform="translate(407.3,323) rotate(-24)" font-size="8.3" text-anchor="middle">0.4</text>
<text transform="translate(423.6,323) rotate(-24)" font-size="8.3" text-anchor="middle">0.6</text>
<text transform="translate(440.0,323) rotate(-24)" font-size="8.3" text-anchor="middle">0.8</text>
<text transform="translate(456.3,323) rotate(-24)" font-size="8.3" text-anchor="middle">1</text>
<text transform="translate(472.7,323) rotate(-24)" font-size="8.3" text-anchor="middle">1.5</text>
<text transform="translate(489.0,323) rotate(-24)" font-size="8.3" text-anchor="middle">2</text>
<text transform="translate(505.4,323) rotate(-24)" font-size="8.3" text-anchor="middle">2.5</text>
<text transform="translate(521.7,323) rotate(-24)" font-size="8.3" text-anchor="middle">3</text>
<text transform="translate(538.1,323) rotate(-24)" font-size="8.3" text-anchor="middle">3.5</text>
<text transform="translate(554.4,323) rotate(-24)" font-size="8.3" text-anchor="middle">4</text>
<polygon points="51.1,519.6 57.6,518.0 64.1,516.4 70.6,514.8 77.1,513.2 83.7,511.5 90.2,509.9 96.7,508.2 103.2,506.4 109.7,504.6 116.2,502.8 122.7,501.0 129.2,499.1 135.7,497.1 142.2,495.1 148.8,493.0 155.3,490.8 161.8,488.5 168.3,486.2 174.8,483.8 181.3,481.3 187.8,478.7 194.3,476.1 200.8,473.3 207.3,470.5 213.8,467.7 220.4,464.8 226.9,461.8 233.4,458.8 239.9,455.8 246.4,452.7 252.9,449.5 259.4,446.4 265.9,443.2 272.4,440.0 278.9,436.8 285.5,433.6 292.0,430.3 292.0,475.4 285.5,477.0 278.9,478.6 272.4,480.2 265.9,481.9 259.4,483.5 252.9,485.2 246.4,486.9 239.9,488.6 233.4,490.4 226.9,492.2 220.4,494.1 213.8,496.0 207.3,498.0 200.8,500.0 194.3,502.1 187.8,504.3 181.3,506.5 174.8,508.9 168.3,511.3 161.8,513.8 155.3,516.3 148.8,519.0 142.2,521.7 135.7,524.5 129.2,527.4 122.7,530.3 116.2,533.2 109.7,536.3 103.2,539.3 96.7,542.4 90.2,545.5 83.7,548.7 77.1,551.8 70.6,555.0 64.1,558.2 57.6,561.5 51.1,564.7" fill="#cad5f6"/>
<path d="M51.1 542.2L292.0 452.9" stroke="#3a60cf" stroke-width="2.4" fill="none"/>
<polyline points="51.1,541.5 57.6,498.6 64.1,502.7 70.6,529.0 77.1,554.7 83.7,556.6 90.2,495.5 96.7,544.0 103.2,468.6 109.7,538.1 116.2,532.1 122.7,498.6 129.2,569.1 135.7,580.7 142.2,545.3 148.8,508.7 155.3,557.8 161.8,435.0 168.3,522.7 174.8,516.2 181.3,478.9 187.8,442.6 194.3,480.1 200.8,528.7 207.3,524.6 213.8,468.9 220.4,462.6 226.9,408.4 233.4,485.2 239.9,445.4 246.4,466.4 252.9,413.7 259.4,508.0 265.9,451.3 272.4,512.1 278.9,435.3 285.5,441.3 292.0,473.9" fill="none" stroke="#111" stroke-width="0.6"/>
<circle cx="51.1" cy="541.5" r="3.3" fill="#575757" stroke="#3a3a3a" stroke-width="0.6"/>
<circle cx="57.6" cy="498.6" r="3.3" fill="#575757" stroke="#3a3a3a" stroke-width="0.6"/>
<circle cx="64.1" cy="502.7" r="3.3" fill="#575757" stroke="#3a3a3a" stroke-width="0.6"/>
<circle cx="70.6" cy="529.0" r="3.3" fill="#575757" stroke="#3a3a3a" stroke-width="0.6"/>
<circle cx="77.1" cy="554.7" r="3.3" fill="#575757" stroke="#3a3a3a" stroke-width="0.6"/>
<circle cx="83.7" cy="556.6" r="3.3" fill="#575757" stroke="#3a3a3a" stroke-width="0.6"/>
<circle cx="90.2" cy="495.5" r="3.3" fill="#575757" stroke="#3a3a3a" stroke-width="0.6"/>
<circle cx="96.7" cy="544.0" r="3.3" fill="#575757" stroke="#3a3a3a" stroke-width="0.6"/>
<circle cx="103.2" cy="468.6" r="3.3" fill="#575757" stroke="#3a3a3a" stroke-width="0.6"/>
<circle cx="109.7" cy="538.1" r="3.3" fill="#575757" stroke="#3a3a3a" stroke-width="0.6"/>
<circle cx="116.2" cy="532.1" r="3.3" fill="#575757" stroke="#3a3a3a" stroke-width="0.6"/>
<circle cx="122.7" cy="498.6" r="3.3" fill="#575757" stroke="#3a3a3a" stroke-width="0.6"/>
<circle cx="129.2" cy="569.1" r="3.3" fill="#575757" stroke="#3a3a3a" stroke-width="0.6"/>
<circle cx="135.7" cy="580.7" r="3.3" fill="#575757" stroke="#3a3a3a" stroke-width="0.6"/>
<circle cx="142.2" cy="545.3" r="3.3" fill="#575757" stroke="#3a3a3a" stroke-width="0.6"/>
<circle cx="148.8" cy="508.7" r="3.3" fill="#575757" stroke="#3a3a3a" stroke-width="0.6"/>
<circle cx="155.3" cy="557.8" r="3.3" fill="#575757" stroke="#3a3a3a" stroke-width="0.6"/>
<circle cx="161.8" cy="435.0" r="3.3" fill="#575757" stroke="#3a3a3a" stroke-width="0.6"/>
<circle cx="168.3" cy="522.7" r="3.3" fill="#575757" stroke="#3a3a3a" stroke-width="0.6"/>
<circle cx="174.8" cy="516.2" r="3.3" fill="#575757" stroke="#3a3a3a" stroke-width="0.6"/>
<circle cx="181.3" cy="478.9" r="3.3" fill="#575757" stroke="#3a3a3a" stroke-width="0.6"/>
<circle cx="187.8" cy="442.6" r="3.3" fill="#575757" stroke="#3a3a3a" stroke-width="0.6"/>
<circle cx="194.3" cy="480.1" r="3.3" fill="#575757" stroke="#3a3a3a" stroke-width="0.6"/>
<circle cx="200.8" cy="528.7" r="3.3" fill="#575757" stroke="#3a3a3a" stroke-width="0.6"/>
<circle cx="207.3" cy="524.6" r="3.3" fill="#575757" stroke="#3a3a3a" stroke-width="0.6"/>
<circle cx="213.8" cy="468.9" r="3.3" fill="#575757" stroke="#3a3a3a" stroke-width="0.6"/>
<circle cx="220.4" cy="462.6" r="3.3" fill="#575757" stroke="#3a3a3a" stroke-width="0.6"/>
<circle cx="226.9" cy="408.4" r="3.3" fill="#575757" stroke="#3a3a3a" stroke-width="0.6"/>
<circle cx="233.4" cy="485.2" r="3.3" fill="#575757" stroke="#3a3a3a" stroke-width="0.6"/>
<circle cx="239.9" cy="445.4" r="3.3" fill="#575757" stroke="#3a3a3a" stroke-width="0.6"/>
<circle cx="246.4" cy="466.4" r="3.3" fill="#575757" stroke="#3a3a3a" stroke-width="0.6"/>
<circle cx="252.9" cy="413.7" r="3.3" fill="#575757" stroke="#3a3a3a" stroke-width="0.6"/>
<circle cx="259.4" cy="508.0" r="3.3" fill="#575757" stroke="#3a3a3a" stroke-width="0.6"/>
<circle cx="265.9" cy="451.3" r="3.3" fill="#575757" stroke="#3a3a3a" stroke-width="0.6"/>
<circle cx="272.4" cy="512.1" r="3.3" fill="#575757" stroke="#3a3a3a" stroke-width="0.6"/>
<circle cx="278.9" cy="435.3" r="3.3" fill="#575757" stroke="#3a3a3a" stroke-width="0.6"/>
<circle cx="285.5" cy="441.3" r="3.3" fill="#575757" stroke="#3a3a3a" stroke-width="0.6"/>
<circle cx="292.0" cy="473.9" r="3.3" fill="#575757" stroke="#3a3a3a" stroke-width="0.6"/>
<rect x="44.6" y="346.7" width="266.9" height="250.59999999999997" fill="none" stroke="#000" stroke-width="0.9"/>
<text x="51.1" y="610.2" font-size="9" text-anchor="middle">1980</text>
<text x="116.2" y="610.2" font-size="9" text-anchor="middle">1990</text>
<text x="181.3" y="610.2" font-size="9" text-anchor="middle">2000</text>
<text x="246.4" y="610.2" font-size="9" text-anchor="middle">2010</text>
<text x="311.5" y="610.2" font-size="9" text-anchor="middle">2020</text>
<text x="38.3" y="600.9" font-size="9" text-anchor="end">0.0</text>
<text x="38.3" y="538.2" font-size="9" text-anchor="end">2.0</text>
<text x="38.3" y="475.6" font-size="9" text-anchor="end">4.0</text>
<text x="38.3" y="412.9" font-size="9" text-anchor="end">6.0</text>
<text x="38.3" y="350.3" font-size="9" text-anchor="end">8.0</text>
<path d="M51.1 597.3v-4.4M51.1 346.7v4.4M116.2 597.3v-4.4M116.2 346.7v4.4M181.3 597.3v-4.4M181.3 346.7v4.4M246.4 597.3v-4.4M246.4 346.7v4.4M44.6 597.3h4.4M311.5 597.3h-4.4M44.6 534.6h4.4M311.5 534.6h-4.4M44.6 472.0h4.4M311.5 472.0h-4.4M44.6 409.3h4.4M311.5 409.3h-4.4M44.6 346.7h4.4M311.5 346.7h-4.4" stroke="#000" stroke-width="0.8" fill="none"/>
<text x="178" y="624.8" font-size="11.2" text-anchor="middle">Year</text>
<text transform="translate(17,472.0) rotate(-90)" font-size="10" text-anchor="middle">Annual frequency of soil-based CDHEs (days)</text>
<text x="108.5" y="365.8" font-size="10.7">b=0.8 (0.4-1.2) days decade<tspan dy="-4.5" font-size="5.8">-1</tspan><tspan dy="4.5">, p=0.0004</tspan></text>
<polygon points="413.8,502.6 420.3,502.1 426.9,501.6 433.4,501.1 439.9,500.6 446.5,500.0 453.0,499.4 459.5,498.8 466.1,498.2 472.6,497.5 479.1,496.8 485.7,496.1 492.2,495.3 498.7,494.5 505.3,493.6 511.8,492.6 518.3,491.6 524.9,490.6 531.4,489.4 537.9,488.2 544.5,487.0 551.0,485.6 557.5,484.2 564.0,482.8 570.6,481.3 577.1,479.7 583.6,478.1 590.2,476.4 596.7,474.7 603.2,473.0 609.8,471.2 616.3,469.4 622.8,467.6 629.4,465.7 635.9,463.8 642.4,462.0 649.0,460.1 655.5,458.1 655.5,497.7 649.0,498.2 642.4,498.7 635.9,499.2 629.4,499.8 622.8,500.3 616.3,500.9 609.8,501.5 603.2,502.1 596.7,502.8 590.2,503.5 583.6,504.2 577.1,505.0 570.6,505.8 564.0,506.7 557.5,507.7 551.0,508.7 544.5,509.7 537.9,510.9 531.4,512.1 524.9,513.3 518.3,514.7 511.8,516.1 505.3,517.5 498.7,519.1 492.2,520.6 485.7,522.3 479.1,523.9 472.6,525.6 466.1,527.4 459.5,529.1 453.0,530.9 446.5,532.8 439.9,534.6 433.4,536.5 426.9,538.4 420.3,540.3 413.8,542.2" fill="#cad5f6"/>
<path d="M413.8 522.4L655.5 477.9" stroke="#3a60cf" stroke-width="2.4" fill="none"/>
<polyline points="413.8,531.9 420.3,481.5 426.9,488.5 433.4,529.9 439.9,538.9 446.5,541.4 453.0,465.9 459.5,521.4 466.1,474.9 472.6,518.0 479.1,541.4 485.7,491.9 492.2,562.0 498.7,578.3 505.3,535.0 511.8,497.9 518.3,539.4 524.9,459.9 531.4,492.9 537.9,510.9 544.5,470.9 551.0,446.4 557.5,490.0 564.0,537.5 570.6,511.4 577.1,474.0 583.6,471.9 590.2,460.9 596.7,485.4 603.2,447.5 609.8,488.9 616.3,446.0 622.8,510.4 629.4,487.9 635.9,518.4 642.4,469.0 649.0,478.4 655.5,499.9" fill="none" stroke="#111" stroke-width="0.6"/>
<circle cx="413.8" cy="531.9" r="3.3" fill="#575757" stroke="#3a3a3a" stroke-width="0.6"/>
<circle cx="420.3" cy="481.5" r="3.3" fill="#575757" stroke="#3a3a3a" stroke-width="0.6"/>
<circle cx="426.9" cy="488.5" r="3.3" fill="#575757" stroke="#3a3a3a" stroke-width="0.6"/>
<circle cx="433.4" cy="529.9" r="3.3" fill="#575757" stroke="#3a3a3a" stroke-width="0.6"/>
<circle cx="439.9" cy="538.9" r="3.3" fill="#575757" stroke="#3a3a3a" stroke-width="0.6"/>
<circle cx="446.5" cy="541.4" r="3.3" fill="#575757" stroke="#3a3a3a" stroke-width="0.6"/>
<circle cx="453.0" cy="465.9" r="3.3" fill="#575757" stroke="#3a3a3a" stroke-width="0.6"/>
<circle cx="459.5" cy="521.4" r="3.3" fill="#575757" stroke="#3a3a3a" stroke-width="0.6"/>
<circle cx="466.1" cy="474.9" r="3.3" fill="#575757" stroke="#3a3a3a" stroke-width="0.6"/>
<circle cx="472.6" cy="518.0" r="3.3" fill="#575757" stroke="#3a3a3a" stroke-width="0.6"/>
<circle cx="479.1" cy="541.4" r="3.3" fill="#575757" stroke="#3a3a3a" stroke-width="0.6"/>
<circle cx="485.7" cy="491.9" r="3.3" fill="#575757" stroke="#3a3a3a" stroke-width="0.6"/>
<circle cx="492.2" cy="562.0" r="3.3" fill="#575757" stroke="#3a3a3a" stroke-width="0.6"/>
<circle cx="498.7" cy="578.3" r="3.3" fill="#575757" stroke="#3a3a3a" stroke-width="0.6"/>
<circle cx="505.3" cy="535.0" r="3.3" fill="#575757" stroke="#3a3a3a" stroke-width="0.6"/>
<circle cx="511.8" cy="497.9" r="3.3" fill="#575757" stroke="#3a3a3a" stroke-width="0.6"/>
<circle cx="518.3" cy="539.4" r="3.3" fill="#575757" stroke="#3a3a3a" stroke-width="0.6"/>
<circle cx="524.9" cy="459.9" r="3.3" fill="#575757" stroke="#3a3a3a" stroke-width="0.6"/>
<circle cx="531.4" cy="492.9" r="3.3" fill="#575757" stroke="#3a3a3a" stroke-width="0.6"/>
<circle cx="537.9" cy="510.9" r="3.3" fill="#575757" stroke="#3a3a3a" stroke-width="0.6"/>
<circle cx="544.5" cy="470.9" r="3.3" fill="#575757" stroke="#3a3a3a" stroke-width="0.6"/>
<circle cx="551.0" cy="446.4" r="3.3" fill="#575757" stroke="#3a3a3a" stroke-width="0.6"/>
<circle cx="557.5" cy="490.0" r="3.3" fill="#575757" stroke="#3a3a3a" stroke-width="0.6"/>
<circle cx="564.0" cy="537.5" r="3.3" fill="#575757" stroke="#3a3a3a" stroke-width="0.6"/>
<circle cx="570.6" cy="511.4" r="3.3" fill="#575757" stroke="#3a3a3a" stroke-width="0.6"/>
<circle cx="577.1" cy="474.0" r="3.3" fill="#575757" stroke="#3a3a3a" stroke-width="0.6"/>
<circle cx="583.6" cy="471.9" r="3.3" fill="#575757" stroke="#3a3a3a" stroke-width="0.6"/>
<circle cx="590.2" cy="460.9" r="3.3" fill="#575757" stroke="#3a3a3a" stroke-width="0.6"/>
<circle cx="596.7" cy="485.4" r="3.3" fill="#575757" stroke="#3a3a3a" stroke-width="0.6"/>
<circle cx="603.2" cy="447.5" r="3.3" fill="#575757" stroke="#3a3a3a" stroke-width="0.6"/>
<circle cx="609.8" cy="488.9" r="3.3" fill="#575757" stroke="#3a3a3a" stroke-width="0.6"/>
<circle cx="616.3" cy="446.0" r="3.3" fill="#575757" stroke="#3a3a3a" stroke-width="0.6"/>
<circle cx="622.8" cy="510.4" r="3.3" fill="#575757" stroke="#3a3a3a" stroke-width="0.6"/>
<circle cx="629.4" cy="487.9" r="3.3" fill="#575757" stroke="#3a3a3a" stroke-width="0.6"/>
<circle cx="635.9" cy="518.4" r="3.3" fill="#575757" stroke="#3a3a3a" stroke-width="0.6"/>
<circle cx="642.4" cy="469.0" r="3.3" fill="#575757" stroke="#3a3a3a" stroke-width="0.6"/>
<circle cx="649.0" cy="478.4" r="3.3" fill="#575757" stroke="#3a3a3a" stroke-width="0.6"/>
<circle cx="655.5" cy="499.9" r="3.3" fill="#575757" stroke="#3a3a3a" stroke-width="0.6"/>
<rect x="407.55" y="345.5" width="267.55" height="251.35000000000002" fill="none" stroke="#000" stroke-width="0.9"/>
<text x="413.8" y="609.8" font-size="9" text-anchor="middle">1980</text>
<text x="479.1" y="609.8" font-size="9" text-anchor="middle">1990</text>
<text x="544.5" y="609.8" font-size="9" text-anchor="middle">2000</text>
<text x="609.8" y="609.8" font-size="9" text-anchor="middle">2010</text>
<text x="675.1" y="609.8" font-size="9" text-anchor="middle">2020</text>
<text x="401.2" y="600.5" font-size="9" text-anchor="end">0</text>
<text x="401.2" y="537.6" font-size="9" text-anchor="end">200</text>
<text x="401.2" y="474.8" font-size="9" text-anchor="end">400</text>
<text x="401.2" y="411.9" font-size="9" text-anchor="end">600</text>
<text x="401.2" y="349.1" font-size="9" text-anchor="end">800</text>
<path d="M413.8 596.85v-4.4M413.8 345.5v4.4M479.1 596.85v-4.4M479.1 345.5v4.4M544.5 596.85v-4.4M544.5 345.5v4.4M609.8 596.85v-4.4M609.8 345.5v4.4M407.55 596.9h4.4M675.1 596.9h-4.4M407.55 534.0h4.4M675.1 534.0h-4.4M407.55 471.2h4.4M675.1 471.2h-4.4M407.55 408.3h4.4M675.1 408.3h-4.4M407.55 345.5h4.4M675.1 345.5h-4.4" stroke="#000" stroke-width="0.8" fill="none"/>
<text x="541" y="624.8" font-size="11.2" text-anchor="middle">Year</text>
<text transform="translate(378,471.2) rotate(-90)" font-size="10" text-anchor="middle">Annual coverage area of soil-based CDHEs (10<tspan dy="-4.5" font-size="5.8">4</tspan><tspan dy="4.5"> km</tspan><tspan dy="-4.5" font-size="5.8">2</tspan><tspan dy="4.5">)</tspan></text>
<text x="459" y="365.8" font-size="10.7">b=37.3 (5.1-69.7)×10<tspan dy="-4.5" font-size="5.8">4</tspan><tspan dy="4.5"> km</tspan><tspan dy="-4.5" font-size="5.8">2</tspan><tspan dy="4.5"> decade</tspan><tspan dy="-4.5" font-size="5.8">-1</tspan><tspan dy="4.5">, p=0.022</tspan></text>
</svg></body></html>
